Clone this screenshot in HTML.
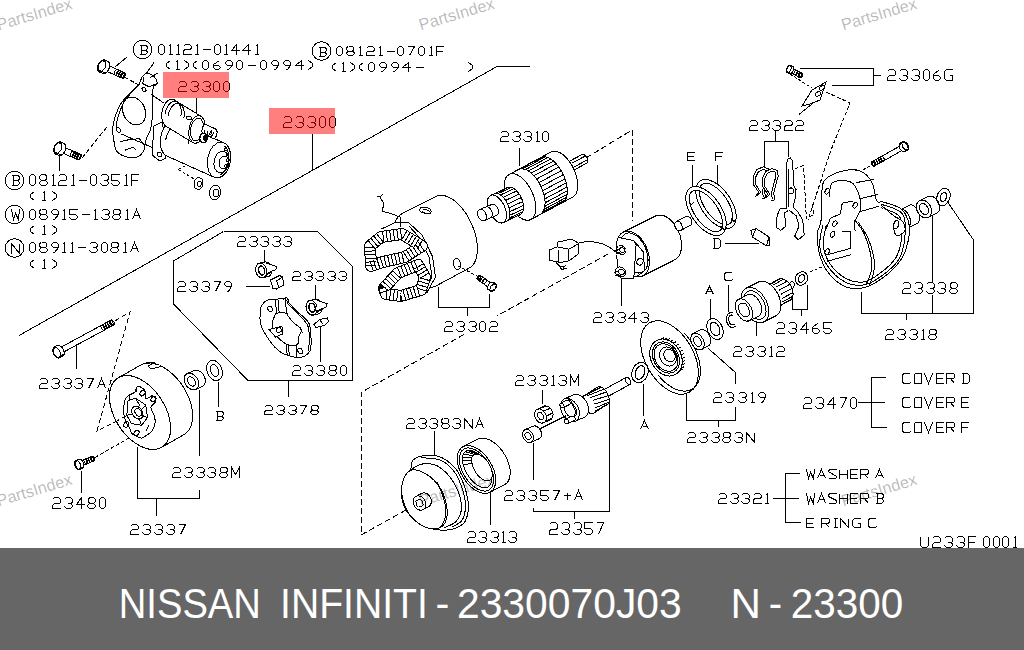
<!DOCTYPE html>
<html><head><meta charset="utf-8"><style>
html,body{margin:0;padding:0;background:#fff;width:1024px;height:650px;overflow:hidden}
svg{position:absolute;left:0;top:0}
</style></head><body>
<svg width="1024" height="650" viewBox="0 0 1024 650">
<rect x="0" y="0" width="1024" height="650" fill="#fff"/>

<g fill="none" stroke="#000" stroke-width="1" shape-rendering="crispEdges">
<polyline points="19,335.5 497,66.5 529.5,66.5"/>
<polyline points="223.5,231.5 317.5,231.5 352.5,266.5 352.5,380.5 248,380.5 173.5,304 173.5,261 223.5,231.5"/>
<line x1="288.5" y1="380.5" x2="288.5" y2="396.5"/>
<line x1="196.5" y1="98" x2="196.5" y2="115"/>
<line x1="312.5" y1="134" x2="312.5" y2="170"/>
<line x1="59.5" y1="154" x2="59.5" y2="171"/>
<line x1="264.5" y1="250" x2="264.5" y2="262"/>
<line x1="315.5" y1="285" x2="315.5" y2="303"/>
<line x1="320.5" y1="326" x2="320.5" y2="362"/>
<line x1="76.5" y1="344" x2="76.5" y2="369"/>
<line x1="218.5" y1="382" x2="218.5" y2="407"/>
<line x1="81.5" y1="471" x2="81.5" y2="493"/>
<line x1="621.5" y1="278" x2="621.5" y2="306"/>
<line x1="519.5" y1="148" x2="519.5" y2="166"/>
<line x1="692.5" y1="165" x2="692.5" y2="188"/>
<line x1="717.5" y1="165" x2="717.5" y2="186"/>
<line x1="710.5" y1="299" x2="710.5" y2="319"/>
<line x1="728.5" y1="285" x2="728.5" y2="312"/>
<line x1="756.5" y1="320" x2="756.5" y2="336"/>
<line x1="542.5" y1="390" x2="542.5" y2="404"/>
<line x1="434.5" y1="431" x2="434.5" y2="456"/>
<line x1="533.5" y1="443" x2="533.5" y2="480"/>
<line x1="490.5" y1="493" x2="490.5" y2="525"/>
<line x1="643.5" y1="384" x2="643.5" y2="416"/>
<line x1="246" y1="286.5" x2="270" y2="286.5"/>
<line x1="725" y1="243.5" x2="758.5" y2="243.5"/>
<polyline points="137.5,446.5 137.5,498.5 199.5,498.5 199.5,489.5"/>
<line x1="156.5" y1="498.5" x2="156.5" y2="515.5"/>
<line x1="199.5" y1="390" x2="199.5" y2="456"/>
<polyline points="438.5,286.5 438.5,307.5 489.5,307.5 489.5,293.5"/>
<line x1="467.5" y1="307.5" x2="467.5" y2="315.5"/>
<polyline points="764.5,166.5 764.5,141.5 788.5,141.5 788.5,156.5"/>
<line x1="775.5" y1="131" x2="775.5" y2="141.5"/>
<polyline points="799.5,68.5 873.5,68.5 873.5,85.5 831.5,85.5"/>
<line x1="873.5" y1="75.5" x2="881" y2="75.5"/>
<polyline points="861.5,292 861.5,313.5 973.5,313.5 973.5,240 947,201"/>
<line x1="932.5" y1="209" x2="932.5" y2="282"/>
<line x1="932.5" y1="294.5" x2="932.5" y2="313.5"/>
<line x1="906.5" y1="313.5" x2="906.5" y2="319.5"/>
<polyline points="792.5,290.5 792.5,309.5 807.5,309.5 807.5,285"/>
<line x1="801.5" y1="309.5" x2="801.5" y2="315.5"/>
<polyline points="533.5,507.5 533.5,511.5 609.5,511.5 609.5,401.5"/>
<line x1="574.5" y1="511.5" x2="574.5" y2="519"/>
<polyline points="707.9,348.1 735.5,372.5 735.5,383.5"/>
<polyline points="686.5,392 686.5,420.5 735.5,420.5 735.5,406.5"/>
<line x1="718.5" y1="420.5" x2="718.5" y2="426.5"/>
<line x1="857.5" y1="402.5" x2="884.5" y2="402.5"/>
<polyline points="885.5,377.5 871.5,377.5 871.5,427.5 886.5,427.5"/>
<line x1="773" y1="498.5" x2="798.5" y2="498.5"/>
<polyline points="799.5,473.5 785.5,473.5 785.5,522.5 800.5,522.5"/>
<circle cx="142.5" cy="49.5" r="9.3"/>
<circle cx="321.5" cy="51" r="9.3"/>
<circle cx="14.5" cy="180.5" r="9.3"/>
<circle cx="14.5" cy="214.5" r="9.3"/>
<circle cx="14.5" cy="248" r="9.3"/>
<line x1="104.1" y1="70.2" x2="122.3" y2="78.2"/>
<line x1="106.5" y1="64.7" x2="124.7" y2="72.8"/>
<ellipse cx="116.3" cy="72.3" rx="3" ry="1.6" transform="rotate(113.83874018317172 116.3 72.3)"/>
<ellipse cx="118.4" cy="73.2" rx="3" ry="1.6" transform="rotate(113.83874018317172 118.4 73.2)"/>
<ellipse cx="120.4" cy="74.1" rx="3" ry="1.6" transform="rotate(113.83874018317172 120.4 74.1)"/>
<ellipse cx="122.5" cy="75" rx="3" ry="1.6" transform="rotate(113.83874018317172 122.5 75)"/>
<ellipse cx="123.5" cy="75.5" rx="3" ry="1.5" transform="rotate(113.83874018317172 123.5 75.5)"/>
<polygon points="97.6,68.4 97.6,67.6 97.7,66.8 97.9,66 98.1,65.2 98.4,64.4 98.8,63.7 99.2,62.9 99.7,62.3 100.2,61.7 100.8,61.1 101.3,60.7 101.9,60.3 102.5,60.1 103.1,59.9 103.6,59.9 104.1,59.9 104.6,60 107.9,61.5 108.3,61.8 108.7,62.1 109.1,62.6 109.3,63.1 109.5,63.7 109.7,64.4 109.7,65.1 109.7,65.8 109.6,66.6 109.4,67.4 109.2,68.2 108.8,69 108.5,69.8 108,70.5 107.6,71.2 107,71.8 106.5,72.3 105.9,72.8 105.4,73.1 104.8,73.4 104.2,73.5 103.7,73.6 103.1,73.5 102.6,73.4 99.4,72 98.9,71.7 98.5,71.3 98.2,70.9 97.9,70.4 97.7,69.8 97.6,69.1" fill="#fff"/>
<polygon points="98.3,70 98.7,64.6 102.5,60.5 105.7,62 105.3,67.4 101.5,71.5"/>
<line x1="98.3" y1="70" x2="101.5" y2="71.5"/>
<line x1="101.5" y1="71.5" x2="104.8" y2="72.9"/>
<line x1="115" y1="67" x2="127" y2="57"/>
<line x1="125" y1="77.5" x2="139" y2="85" stroke-dasharray="4,2"/>
<path d="M142.8,76.1 C144.4,74.2 146.2,73.2 148.1,73.4 C150.1,73.5 153.1,75.6 154.6,77.2 C156.1,78.9 157.4,81.6 157.2,83.3 C157,84.9 154.3,84.7 153.5,86.9 C152.7,89.1 152.6,92.1 152.4,96.6 C152.3,101.1 152.7,108.4 152.4,113.8 C152.2,119.2 151.8,124.6 150.7,128.9 C149.6,133.2 147.1,136.1 146,139.7 C144.8,143.3 145.3,147.6 143.8,150.4 C142.4,153.3 140.2,155.8 137.4,156.9 C134.5,158 130,157.8 126.6,156.9 C123.2,156 119.1,154.4 116.9,151.5 C114.8,148.6 114.4,143.4 113.7,139.7 C113,135.9 112.3,132.9 112.6,128.9 C112.9,125 114,120.3 115.4,116 C116.8,111.7 118.8,106.8 121.2,103.1 C123.6,99.3 127,96.4 129.8,93.4 C132.7,90.3 136.3,87.6 138.4,84.8 C140.6,81.9 141.1,78.1 142.8,76.1 Z" fill="#fff"/>
<path d="M140,83.7 C137.6,86.4 129.3,94.1 125.5,99.8 C121.8,105.6 119.1,112.9 117.6,118.1 C116,123.3 116.5,128.9 116.3,131.1"/>
<polyline points="143.8,76.8 142.8,83.7 149.2,86.9 157.2,83.3"/>
<polyline points="120.1,141.8 128.8,139.7 139.5,138.6 143.8,145.1"/>
<polyline points="124.5,150.4 133.1,147.2 136.3,150.4"/>
<ellipse cx="134" cy="111" rx="14.5" ry="11" transform="rotate(65 134 111)"/>
<ellipse cx="144" cy="89.5" rx="2.5" ry="1.8" transform="rotate(60 144 89.5)"/>
<ellipse cx="118.5" cy="130" rx="2.5" ry="1.8" transform="rotate(60 118.5 130)"/>
<line x1="151.5" y1="94.5" x2="164.5" y2="103.5"/>
<line x1="121.5" y1="134" x2="155.5" y2="149"/>
<line x1="146" y1="74" x2="154" y2="62.5"/>
<line x1="150" y1="77.5" x2="158" y2="73"/>
<polygon points="162,122 154,126 152,155 160,161 166,158 165,138" fill="#fff"/>
<ellipse cx="159.5" cy="154.5" rx="2.5" ry="2" transform="rotate(60 159.5 154.5)"/>
<polygon points="160.2,141.7 160.4,139.3 160.7,137 161.2,134.7 161.9,132.5 162.7,130.4 163.8,128.4 164.9,126.6 166.2,125 167.6,123.7 169,122.7 170.6,121.9 172.1,121.4 173.6,121.2 175.1,121.3 176.6,121.7 223.6,142.7 224.9,143.4 226.2,144.4 227.4,145.7 228.4,147.2 229.2,148.9 229.9,150.8 230.4,152.9 230.7,155.1 230.8,157.3 230.6,159.7 230.3,162 229.8,164.3 229.1,166.5 228.3,168.6 227.2,170.6 226.1,172.4 224.8,173.9 223.4,175.3 222,176.3 220.4,177.1 218.9,177.6 217.4,177.8 215.9,177.7 214.4,177.3 167.4,156.3 166.1,155.6 164.8,154.6 163.6,153.3 162.6,151.8 161.8,150.1 161.1,148.2 160.6,146.1 160.3,143.9" fill="#fff"/>
<ellipse cx="219" cy="160" rx="18" ry="11.5" transform="rotate(100 219 160)"/>
<ellipse cx="221.5" cy="162" rx="11" ry="7.5" transform="rotate(100 221.5 162)"/>
<ellipse cx="224" cy="162.5" rx="6.5" ry="5" transform="rotate(100 224 162.5)"/>
<polyline points="224.7,146.2 225.8,147.3 226.7,148.7 227.5,150.3 228.1,152.1 228.5,154.1 228.7,156.2 228.7,158.3 228.5,160.5 228.1,162.7 227.6,164.9 226.8,166.9 225.9,168.8 224.8,170.5 223.7,172 222.4,173.3 221.1,174.2 219.7,174.9"/>
<ellipse cx="225.8" cy="149.6" rx="1.6" ry="1.2" transform="rotate(30 225.8 149.6)"/>
<ellipse cx="227.5" cy="154.4" rx="1.6" ry="1.2" transform="rotate(30 227.5 154.4)"/>
<ellipse cx="227.6" cy="160.3" rx="1.6" ry="1.2" transform="rotate(30 227.6 160.3)"/>
<ellipse cx="226" cy="166.1" rx="1.6" ry="1.2" transform="rotate(30 226 166.1)"/>
<polyline points="165.7,140 166.2,137.5 167,135.1 168,132.8 169.2,130.7 170.5,128.9 171.9,127.3 173.5,126 175.1,125 176.8,124.4 178.5,124.2 180.1,124.3 181.7,124.7 183.2,125.6 184.5,126.7 185.8,128.2 186.8,129.9 187.6,131.9 188.2,134.1 188.6,136.5 188.7,138.9 188.7,141.5 188.3,144"/>
<polygon points="161.8,115.2 161.9,113.4 162.1,111.6 162.5,109.8 163,108.1 163.7,106.4 164.4,104.9 165.2,103.5 166.2,102.3 167.1,101.2 168.2,100.4 169.2,99.7 170.3,99.3 171.4,99.2 172.4,99.2 173.4,99.5 174.4,100 201.4,116.5 202.3,117.3 203,118.2 203.7,119.4 204.3,120.7 204.7,122.2 205,123.8 205.2,125.5 205.2,127.3 205.1,129.1 204.9,130.9 204.5,132.7 204,134.4 203.3,136.1 202.6,137.6 201.8,139 200.8,140.2 199.9,141.3 198.8,142.1 197.8,142.8 196.7,143.2 195.6,143.3 194.6,143.3 193.6,143 192.6,142.5 165.6,126 164.7,125.2 164,124.2 163.3,123.1 162.7,121.8 162.3,120.3 162,118.7 161.8,117" fill="#fff"/>
<ellipse cx="197" cy="129.5" rx="14" ry="8" transform="rotate(100 197 129.5)"/>
<polyline points="165.1,113.6 165.5,111.7 166.1,109.8 166.8,108 167.7,106.4 168.6,104.9 169.7,103.7 170.8,102.7 171.9,101.9 173.1,101.4 174.3,101.2 175.4,101.2 176.5,101.6 177.6,102.2 178.5,103 179.3,104.2 180,105.5 180.5,107 180.9,108.7 181.2,110.5 181.2,112.4 181.1,114.4 180.9,116.4"/>
<polyline points="168.1,115.6 168.5,113.7 169.1,111.8 169.8,110 170.7,108.4 171.6,106.9 172.7,105.7 173.8,104.7 174.9,103.9 176.1,103.4 177.3,103.2 178.4,103.2 179.5,103.6 180.6,104.2 181.5,105 182.3,106.2 183,107.5 183.5,109 183.9,110.7 184.2,112.5 184.2,114.4 184.1,116.4 183.9,118.4"/>
<ellipse cx="197" cy="129.5" rx="11.5" ry="6.5" transform="rotate(100 197 129.5)"/>
<ellipse cx="189" cy="118" rx="2" ry="2.8" transform="rotate(100 189 118)"/>
<polygon points="201.9,130.3 202,129.6 202.1,129 202.2,128.3 202.4,127.7 202.6,127.1 202.9,126.6 203.2,126.1 203.5,125.7 203.9,125.3 204.3,125 204.7,124.8 205.1,124.6 205.5,124.5 205.9,124.6 206.2,124.7 215.2,128.7 215.6,128.9 215.9,129.2 216.2,129.5 216.5,129.9 216.7,130.4 216.9,130.9 217,131.5 217.1,132.1 217.1,132.7 217,133.4 216.9,134 216.8,134.7 216.6,135.3 216.4,135.9 216.1,136.4 215.8,136.9 215.5,137.3 215.1,137.7 214.7,138 214.3,138.2 213.9,138.4 213.5,138.4 213.1,138.4 212.8,138.3 203.8,134.3 203.4,134.1 203.1,133.8 202.8,133.5 202.5,133.1 202.3,132.6 202.1,132.1 202,131.5 201.9,130.9" fill="#fff"/>
<ellipse cx="214" cy="133.5" rx="5" ry="3" transform="rotate(100 214 133.5)"/>
<polyline points="210.7,131.2 210.5,131.9 210.3,132.6 210,133.2 209.7,133.8 209.4,134.3 209,134.8 208.6,135.1 208.1,135.4 207.7,135.6 207.3,135.6 206.8,135.6 206.4,135.5 206,135.3 205.7,135 205.4,134.6 205.1,134.1 204.9,133.5 204.7,132.9 204.7,132.3 204.6,131.6 204.7,130.9 204.7,130.2"/>
<polyline points="213.4,132.4 213.2,133.1 213,133.8 212.7,134.4 212.4,135 212.1,135.5 211.7,136 211.3,136.3 210.8,136.6 210.4,136.8 210,136.8 209.5,136.8 209.1,136.7 208.7,136.5 208.4,136.2 208.1,135.8 207.8,135.3 207.6,134.7 207.4,134.1 207.4,133.5 207.3,132.8 207.4,132.1 207.4,131.4"/>
<ellipse cx="203.5" cy="138" rx="4.5" ry="3.8" transform="rotate(100 203.5 138)" fill="#fff" stroke-width="1.6"/>
<ellipse cx="205" cy="138" rx="2.5" ry="2" transform="rotate(100 205 138)" fill="#000"/>
<line x1="178.5" y1="169.5" x2="187.5" y2="164.5" stroke-dasharray="3,2"/>
<line x1="178.5" y1="169.5" x2="195" y2="179.5" stroke-dasharray="3,2"/>
<ellipse cx="198.5" cy="183.5" rx="6" ry="4.5" transform="rotate(100 198.5 183.5)"/>
<ellipse cx="199.5" cy="184" rx="3" ry="2" transform="rotate(100 199.5 184)"/>
<ellipse cx="215" cy="192.5" rx="7.5" ry="5.5" transform="rotate(100 215 192.5)"/>
<ellipse cx="216" cy="193" rx="4" ry="3" transform="rotate(100 216 193)"/>
<line x1="60.1" y1="152.1" x2="78.3" y2="159.8"/>
<line x1="62.5" y1="146.6" x2="80.7" y2="154.2"/>
<ellipse cx="72.2" cy="154" rx="3" ry="1.6" transform="rotate(112.71441235316725 72.2 154)"/>
<ellipse cx="74.3" cy="154.8" rx="3" ry="1.6" transform="rotate(112.71441235316725 74.3 154.8)"/>
<ellipse cx="76.4" cy="155.7" rx="3" ry="1.6" transform="rotate(112.71441235316725 76.4 155.7)"/>
<ellipse cx="78.5" cy="156.6" rx="3" ry="1.6" transform="rotate(112.71441235316725 78.5 156.6)"/>
<ellipse cx="79.5" cy="157" rx="3" ry="1.5" transform="rotate(112.71441235316725 79.5 157)"/>
<polygon points="53.6,150.5 53.6,149.7 53.7,148.9 53.9,148.1 54.1,147.3 54.4,146.5 54.8,145.7 55.2,145 55.6,144.3 56.1,143.7 56.7,143.2 57.2,142.7 57.8,142.3 58.4,142.1 58.9,141.9 59.5,141.8 60,141.9 60.5,142 63.8,143.4 64.3,143.6 64.7,144 65,144.4 65.3,144.9 65.5,145.5 65.6,146.2 65.7,146.9 65.7,147.7 65.6,148.5 65.4,149.3 65.2,150.1 64.9,150.9 64.5,151.7 64.1,152.4 63.7,153.1 63.2,153.7 62.6,154.2 62.1,154.7 61.5,155.1 60.9,155.3 60.4,155.5 59.8,155.6 59.3,155.5 58.8,155.4 55.5,154 55,153.8 54.6,153.4 54.3,153 54,152.4 53.8,151.8 53.7,151.2" fill="#fff"/>
<polygon points="54.4,152.1 54.7,146.6 58.4,142.5 61.6,143.9 61.3,149.4 57.6,153.5"/>
<line x1="54.4" y1="152.1" x2="57.6" y2="153.5"/>
<line x1="57.6" y1="153.5" x2="60.9" y2="154.8"/>
<line x1="82" y1="158" x2="108.5" y2="125" stroke-dasharray="5,2"/>
<path d="M261.5,305.8 C262.5,304 264.3,301.5 266.8,300.4 C269.4,299.3 273.7,299.7 276.5,299.3 C279.4,298.9 282.3,297.9 284.1,298.2 C285.9,298.6 285,299.1 287.3,301.5 C289.6,303.8 294.5,308.6 298.1,312.2 C301.6,315.8 306.7,318.7 308.8,323 C311,327.3 310.8,333.4 311,338.1 C311.2,342.7 311.5,347.7 309.9,351 C308.3,354.2 304.3,356.5 301.3,357.4 C298.2,358.3 294.8,357.1 291.6,356.4 C288.4,355.6 284.8,354.7 281.9,353.1 C279,351.5 277.1,349.7 274.4,346.7 C271.7,343.6 268.1,338.8 265.8,334.8 C263.4,330.9 261.3,326.9 260.4,323 C259.5,319 260.2,314 260.4,311.1 C260.6,308.3 260.4,307.6 261.5,305.8 Z" fill="#fff"/>
<path d="M287.3,303.1 C289.1,304.9 294.7,310.2 298.1,313.8 C301.4,317.5 305.6,321.1 307.5,325.1 C309.4,329.2 309.2,333.8 309.4,338.1 C309.5,342.4 308.5,348.8 308.3,351"/>
<path d="M276.5,313.3 C278.5,312.8 284.2,312.8 286.2,313.3 C288.2,313.8 287.1,314.9 288.4,316.5 C289.6,318.1 292.1,321.4 293.8,323 C295.4,324.6 296.8,325 298.1,326.2 C299.3,327.5 301.1,328.9 301.3,330.5 C301.5,332.1 299.7,333.8 299.1,335.9 C298.6,338.1 298.8,341.8 298.1,343.4 C297.3,345.1 296.6,345.4 294.8,345.6 C293,345.8 289.6,345.4 287.3,344.5 C285,343.6 283,342.2 280.8,340.2 C278.7,338.2 275.8,335.4 274.4,332.7 C272.9,330 272.2,326.8 272.2,324.1 C272.2,321.4 273.7,318.3 274.4,316.5 C275.1,314.7 274.6,313.8 276.5,313.3 Z"/>
<polyline points="275.5,299.8 276.5,313.3"/>
<polyline points="278.1,299.8 279.2,312.8"/>
<polyline points="285.1,299.3 286.8,313.3"/>
<polyline points="286.2,344 287.3,356.4"/>
<polyline points="288.4,344.5 289.4,356.4"/>
<polyline points="295.9,345.1 297,357.4"/>
<polygon points="269,329.4 281.9,326.2 283,333.8 275.5,337" fill="#fff"/>
<polygon points="276.5,328.4 280.8,327.3 281.4,331.6 277.1,332.7"/>
<polyline points="283,299.3 286.2,297.2 288.9,300.4 287.3,302.5"/>
<ellipse cx="270.1" cy="309" rx="3" ry="2.2" transform="rotate(60 270.1 309)"/>
<ellipse cx="300.2" cy="351" rx="3" ry="2.2" transform="rotate(60 300.2 351)"/>
<line x1="300.2" y1="327.3" x2="302.4" y2="332.7"/>
<polygon points="255.6,269 255.6,268.1 255.8,267.2 256.1,266.4 256.4,265.6 256.9,264.9 257.4,264.3 257.9,263.8 258.6,263.5 259.3,263.2 264.4,262.1 265.1,261.9 265.8,261.9 266.6,262.1 267.3,262.3 268,262.7 268.7,263.2 269.4,263.8 269.9,264.4 270.5,265.2 270.9,266.1 271.3,266.9 271.6,267.9 271.8,268.8 271.9,269.8 272,270.8 271.9,271.7 271.7,272.6 271.4,273.4 271.1,274.2 270.6,274.9 270.1,275.4 269.6,275.9 268.9,276.3 268.3,276.5 263.1,277.7 262.4,277.8 261.7,277.8 261,277.7 260.2,277.4 259.5,277.1 258.8,276.6 258.2,276 257.6,275.3 257,274.6 256.6,273.7 256.2,272.8 255.9,271.9 255.7,270.9 255.6,270" fill="#fff"/>
<ellipse cx="261.2" cy="270.5" rx="7.5" ry="5.5" transform="rotate(75 261.2 270.5)"/>
<polyline points="266.3,263.2 276.5,266.4 275.8,269.7 270,271.9 267,273.4" fill="#fff"/>
<ellipse cx="261.6" cy="270.5" rx="4.5" ry="3" transform="rotate(75 261.6 270.5)" stroke-width="1.5"/>
<line x1="265.6" y1="275.6" x2="271.4" y2="271.9"/>
<polygon points="306,306.3 306.1,305.4 306.2,304.5 306.5,303.6 306.9,302.9 307.3,302.2 307.8,301.6 308.4,301.1 309,300.8 309.7,300.5 314.8,299.3 315.5,299.2 316.2,299.2 317,299.3 317.7,299.6 318.4,300 319.1,300.4 319.8,301 320.4,301.7 320.9,302.5 321.4,303.3 321.8,304.2 322.1,305.2 322.3,306.1 322.4,307.1 322.4,308 322.3,309 322.1,309.9 321.9,310.7 321.5,311.5 321.1,312.1 320.6,312.7 320,313.2 319.4,313.6 318.7,313.8 313.6,315 312.9,315.1 312.1,315.1 311.4,315 310.7,314.7 309.9,314.4 309.2,313.9 308.6,313.3 308,312.6 307.5,311.8 307,311 306.6,310.1 306.3,309.2 306.1,308.2 306,307.2" fill="#fff"/>
<ellipse cx="311.6" cy="307.7" rx="7.5" ry="5.5" transform="rotate(75 311.6 307.7)"/>
<polyline points="316.8,300.4 327,303.7 326.3,307 320.4,309.2 317.5,310.7" fill="#fff"/>
<ellipse cx="312.1" cy="307.7" rx="4.5" ry="3" transform="rotate(75 312.1 307.7)" stroke-width="1.5"/>
<line x1="316" y1="312.9" x2="321.9" y2="309.2"/>
<polygon points="270.5,280 279.5,275.5 282.5,277 284,285 276.5,289 273,288.5"/>
<line x1="276.5" y1="281" x2="279.5" y2="288.5"/>
<line x1="276.5" y1="281" x2="282.5" y2="277"/>
<polygon points="314,324.5 319.5,319.5 327.5,318 328.5,321.5 324.5,325.5 316,327.5"/>
<line x1="319.5" y1="319.5" x2="323" y2="324"/>
<polygon points="109.4,397.8 109.5,393.5 110.2,389.5 111.3,385.9 113,382.8 115.1,380.2 117.7,378.1 139.7,365.6 142.6,364.1 145.9,363.3 149.4,363 153.1,363.4 157.1,364.4 161,366.1 165,368.3 169,371 172.8,374.3 176.5,377.9 179.9,382 183,386.4 185.7,391 188,395.8 189.9,400.6 191.3,405.4 192.2,410.1 192.6,414.7 192.5,419 191.8,423 190.7,426.6 189,429.7 186.9,432.3 184.3,434.4 162.3,446.9 159.4,448.4 156.1,449.2 152.6,449.5 148.9,449.1 144.9,448.1 141,446.4 137,444.2 133,441.5 129.2,438.2 125.5,434.6 122.1,430.5 119,426.1 116.3,421.5 114,416.8 112.1,411.9 110.7,407.1 109.8,402.4" fill="#fff"/>
<polyline points="145.8,362.7 154.3,362.2 148.3,366.1 150.9,368.6 155.9,367.8 162.7,366.1" fill="#fff"/>
<ellipse cx="140" cy="412.5" rx="41" ry="25" transform="rotate(57 140 412.5)"/>
<path d="M137.3,386.4 C138.6,385.7 141,387.1 142.4,388.1 C143.8,389.1 145.2,390.5 145.8,392.3 C146.4,394.2 144.7,398.5 145.8,399.1 C146.9,399.7 150.9,395.4 152.6,395.7 C154.3,396 155.8,399.4 155.9,400.8 C156.1,402.2 154.3,403 153.4,404.2 C152.6,405.3 150.7,405.6 150.9,407.6 C151,409.5 153.5,413.5 154.3,416 C155,418.6 155.5,420.3 155.1,422.8 C154.7,425.3 153,429.3 151.7,431.3 C150.4,433.2 149.2,433.5 147.5,434.6 C145.8,435.8 143.4,437.7 141.6,438 C139.7,438.3 138.2,437.2 136.5,436.3 C134.8,435.5 132.5,434.4 131.4,433 C130.3,431.5 130.6,429.6 129.7,427.9 C128.9,426.2 127.3,425.1 126.3,422.8 C125.3,420.5 124.1,418 123.8,414.3 C123.5,410.7 123.8,404 124.6,400.8 C125.5,397.5 127.2,396.3 128.9,394.9 C130.6,393.5 133.4,393.7 134.8,392.3 C136.2,390.9 136.1,387.1 137.3,386.4 Z" fill="#fff"/>
<polygon points="128,400.8 135.6,398.2 145.8,405 147.5,417.7 141.6,425.3 131.4,423.6 126.8,415.2"/>
<ellipse cx="137.3" cy="412.6" rx="7" ry="5" transform="rotate(60 137.3 412.6)" fill="#fff"/>
<ellipse cx="138.2" cy="412.3" rx="4" ry="3" transform="rotate(60 138.2 412.3)"/>
<polyline points="135.6,398.2 139.9,405.9"/>
<polyline points="145.8,405 141.6,409.3"/>
<polyline points="147.5,417.7 141.6,415.2"/>
<polyline points="141.6,425.3 138.7,417.7"/>
<polyline points="126.8,415.2 133.1,414.3"/>
<polyline points="129.7,400.8 128.9,395.7 137.3,390.6"/>
<polyline points="149.2,424.5 145.8,431.3"/>
<ellipse cx="142.4" cy="393.2" rx="2.2" ry="3" transform="rotate(40 142.4 393.2)"/>
<ellipse cx="153.4" cy="399.1" rx="2.2" ry="3" transform="rotate(40 153.4 399.1)"/>
<ellipse cx="126.3" cy="424.5" rx="2.2" ry="3" transform="rotate(40 126.3 424.5)"/>
<ellipse cx="136.5" cy="433" rx="2.2" ry="3" transform="rotate(40 136.5 433)"/>
<line x1="113.6" y1="422.8" x2="128.9" y2="414.3" stroke-dasharray="6,3"/>
<polygon points="184.2,378.7 184.3,377.7 184.5,376.7 184.9,375.9 185.3,375.1 185.9,374.5 186.6,373.9 187.3,373.6 193.8,370.6 194.7,370.3 195.6,370.2 196.5,370.2 197.4,370.4 198.4,370.7 199.3,371.1 200.3,371.7 201.2,372.3 202,373.1 202.8,374 203.4,375 204,376 204.5,377 204.9,378.1 205.2,379.2 205.3,380.3 205.3,381.3 205.2,382.3 205,383.3 204.6,384.1 204.2,384.9 203.6,385.5 202.9,386.1 202.2,386.4 195.7,389.4 194.8,389.7 193.9,389.8 193,389.8 192.1,389.6 191.1,389.3 190.2,388.9 189.2,388.3 188.3,387.7 187.5,386.9 186.7,386 186.1,385 185.5,384 185,383 184.6,381.9 184.3,380.8 184.2,379.7" fill="#fff"/>
<ellipse cx="191.5" cy="381.5" rx="9" ry="6.5" transform="rotate(57 191.5 381.5)"/>
<ellipse cx="191.5" cy="381.5" rx="5" ry="3.5" transform="rotate(57 191.5 381.5)"/>
<ellipse cx="214.5" cy="370.5" rx="10.5" ry="7.5" transform="rotate(70 214.5 370.5)"/>
<ellipse cx="214.5" cy="370.5" rx="6" ry="4" transform="rotate(70 214.5 370.5)"/>
<line x1="61.2" y1="353.4" x2="113.8" y2="325"/>
<line x1="58.6" y1="348.5" x2="111.2" y2="320"/>
<ellipse cx="103" cy="327.6" rx="2.8" ry="1.6" transform="rotate(61.606980578617005 103 327.6)"/>
<ellipse cx="105.1" cy="326.5" rx="2.8" ry="1.6" transform="rotate(61.606980578617005 105.1 326.5)"/>
<ellipse cx="107.2" cy="325.4" rx="2.8" ry="1.6" transform="rotate(61.606980578617005 107.2 325.4)"/>
<ellipse cx="109.3" cy="324.2" rx="2.8" ry="1.6" transform="rotate(61.606980578617005 109.3 324.2)"/>
<ellipse cx="111.4" cy="323.1" rx="2.8" ry="1.6" transform="rotate(61.606980578617005 111.4 323.1)"/>
<ellipse cx="112.5" cy="322.5" rx="2.8" ry="1.5" transform="rotate(61.606980578617005 112.5 322.5)"/>
<polygon points="52.7,350 52.8,349.4 53,348.8 53.1,348.3 53.4,347.8 53.8,347.5 54.1,347.2 57,345.6 57.5,345.5 58,345.4 58.5,345.4 59,345.5 59.6,345.7 60.1,346 60.7,346.4 61.2,346.8 61.7,347.3 62.2,347.9 62.7,348.5 63.1,349.2 63.4,349.9 63.7,350.6 63.9,351.4 64.1,352.1 64.2,352.8 64.2,353.4 64.1,354.1 64,354.6 63.8,355.1 63.5,355.6 63.1,355.9 62.8,356.2 59.9,357.8 59.4,358 58.9,358 58.4,358 57.9,357.9 57.3,357.7 56.8,357.4 56.2,357.1 55.7,356.6 55.2,356.1 54.7,355.5 54.2,354.9 53.8,354.2 53.5,353.5 53.2,352.8 53,352.1 52.8,351.3 52.8,350.6" fill="#fff"/>
<polygon points="57.8,357.5 54.1,354.1 53.3,349.1 56.2,347.5 59.9,350.9 60.7,355.9"/>
<line x1="57.8" y1="357.5" x2="60.7" y2="355.9"/>
<line x1="60.7" y1="355.9" x2="63.6" y2="354.4"/>
<polyline points="115,321 130,312 97,431 113,423" stroke-dasharray="5,3"/>
<line x1="81.5" y1="466.2" x2="94" y2="460.8"/>
<line x1="79.5" y1="461.6" x2="92" y2="456.2"/>
<ellipse cx="85.8" cy="461.6" rx="2.5" ry="1.6" transform="rotate(66.5713071912546 85.8 461.6)"/>
<ellipse cx="87.8" cy="460.7" rx="2.5" ry="1.6" transform="rotate(66.5713071912546 87.8 460.7)"/>
<ellipse cx="89.9" cy="459.8" rx="2.5" ry="1.6" transform="rotate(66.5713071912546 89.9 459.8)"/>
<ellipse cx="92" cy="458.9" rx="2.5" ry="1.6" transform="rotate(66.5713071912546 92 458.9)"/>
<ellipse cx="93" cy="458.5" rx="2.5" ry="1.5" transform="rotate(66.5713071912546 93 458.5)"/>
<polygon points="74.6,463.1 74.7,462.6 74.8,462.1 74.9,461.6 75.1,461.2 75.4,460.9 75.7,460.6 76,460.4 78.5,459.3 78.9,459.2 79.3,459.2 79.7,459.2 80.2,459.3 80.6,459.5 81.1,459.8 81.5,460.2 81.9,460.6 82.3,461.1 82.7,461.6 83,462.1 83.3,462.7 83.5,463.3 83.7,463.9 83.8,464.6 83.9,465.2 83.9,465.8 83.9,466.3 83.8,466.8 83.6,467.3 83.4,467.7 83.2,468 82.8,468.3 82.5,468.5 80,469.6 79.6,469.7 79.2,469.7 78.8,469.7 78.3,469.6 77.9,469.4 77.5,469.1 77,468.7 76.6,468.3 76.2,467.9 75.9,467.3 75.5,466.8 75.2,466.2 75,465.6 74.8,465 74.7,464.4 74.6,463.7" fill="#fff"/>
<polygon points="78.3,469.2 75.5,466.1 75.2,461.9 77.7,460.8 80.5,463.9 80.8,468.1"/>
<line x1="78.3" y1="469.2" x2="80.8" y2="468.1"/>
<line x1="80.8" y1="468.1" x2="83.4" y2="467"/>
<line x1="95" y1="457.5" x2="129" y2="438" stroke-dasharray="4,2"/>
<polygon points="393.6,234.5 393.6,230.2 394.1,226.2 395,222.6 396.3,219.5 398,216.9 400.1,214.9 402.4,213.5 436.3,196.3 439,195.5 441.9,195.3 444.9,195.8 448.1,196.9 451.3,198.6 454.6,200.8 457.8,203.7 461,207 464,210.7 466.8,214.8 469.3,219.2 471.6,223.9 473.5,228.6 475.1,233.5 476.3,238.3 477.1,243.1 477.4,247.6 477.3,251.9 476.8,255.8 475.9,259.4 474.6,262.5 472.9,265 470.8,267.1 468.5,268.5 435,286.5 432.3,287.3 429.4,287.5 426.4,287 423.2,285.9 419.9,284.2 416.6,281.9 413.4,279 410.2,275.7 407.2,271.9 404.4,267.7 401.8,263.2 399.5,258.5 397.6,253.7 396,248.8 394.8,243.9 393.9,239.1" fill="#fff"/>
<ellipse cx="425.5" cy="210.5" rx="6" ry="3.2" transform="rotate(15 425.5 210.5)"/>
<ellipse cx="426" cy="211.5" rx="3.5" ry="1.8" transform="rotate(15 426 211.5)"/>
<ellipse cx="457" cy="264" rx="5.5" ry="3.5" transform="rotate(80 457 264)"/>
<polyline points="381.5,229 395,222.5 409,223 422,235 432.5,256.5 435.5,277 427,292.5 406.5,299.5" fill="#fff"/>
<polyline points="409,226 419,237 429,257 432,277 425,290"/>
<polygon points="371,266 370,246 381,237 402,234 422,246 405,257 383,262" stroke-width="12" stroke-linejoin="round"/>
<polygon points="371,266 370,246 381,237 402,234 422,246 405,257 383,262" stroke="#fff" stroke-width="10" stroke-linejoin="round"/>
<polygon points="371,266 370,246 381,237 402,234 422,246 405,257 383,262" stroke-width="10" stroke-dasharray="1,2.6"/>
<polygon points="384,288 398,273 418,265 425,277 421,290 401,296 386,294" stroke-width="12" stroke-linejoin="round"/>
<polygon points="384,288 398,273 418,265 425,277 421,290 401,296 386,294" stroke="#fff" stroke-width="10" stroke-linejoin="round"/>
<polygon points="384,288 398,273 418,265 425,277 421,290 401,296 386,294" stroke-width="10" stroke-dasharray="1,2.6"/>
<polyline points="380,197 384,204 382,211 392,214 400,217 400,227"/>
<polyline points="377,196 380,197 383,194"/>
<line x1="458" y1="266" x2="477" y2="276" stroke-dasharray="3,2"/>
<line x1="492.4" y1="284" x2="480.5" y2="275.5"/>
<line x1="489.5" y1="288.1" x2="477.5" y2="279.5"/>
<ellipse cx="484.4" cy="281.4" rx="2.5" ry="1.6" transform="rotate(-54.46232220802562 484.4 281.4)"/>
<ellipse cx="482.3" cy="279.8" rx="2.5" ry="1.6" transform="rotate(-54.46232220802562 482.3 279.8)"/>
<ellipse cx="480.1" cy="278.3" rx="2.5" ry="1.6" transform="rotate(-54.46232220802562 480.1 278.3)"/>
<ellipse cx="479" cy="277.5" rx="2.5" ry="1.5" transform="rotate(-54.46232220802562 479 277.5)"/>
<polygon points="487.6,288 487.6,287.5 487.6,287.1 487.8,286.5 488,286 488.2,285.5 488.5,285 488.8,284.5 489.1,284 489.5,283.6 490,283.2 490.4,282.9 490.8,282.6 491.3,282.4 491.7,282.2 492.1,282.1 492.6,282.1 492.9,282.1 493.3,282.2 493.6,282.4 495.6,283.8 495.9,284.1 496.1,284.4 496.3,284.7 496.4,285.1 496.4,285.6 496.4,286 496.3,286.5 496.2,287 496,287.6 495.8,288.1 495.5,288.6 495.2,289.1 494.8,289.5 494.4,290 494,290.4 493.6,290.7 493.1,291 492.7,291.2 492.3,291.4 491.8,291.5 491.4,291.5 491,291.4 490.7,291.3 490.4,291.2 488.4,289.7 488.1,289.5 487.9,289.2 487.7,288.8 487.6,288.4" fill="#fff"/>
<polygon points="496.1,285.3 495,288.9 491.9,291.1 489.9,289.7 491,286.1 494.1,283.9"/>
<line x1="496.1" y1="285.3" x2="494.1" y2="283.9"/>
<line x1="494.1" y1="283.9" x2="492.1" y2="282.4"/>
<polygon points="567.6,164.2 567.6,163.7 567.7,163.2 567.8,162.7 568,162.3 568.3,161.9 568.5,161.7 568.9,161.5 581.9,154.5 582.3,154.3 582.7,154.3 583.1,154.3 583.5,154.4 584,154.6 584.4,154.9 584.9,155.2 585.3,155.6 585.7,156.1 586.1,156.6 586.4,157.2 586.7,157.7 587,158.3 587.2,158.9 587.3,159.6 587.4,160.2 587.4,160.8 587.4,161.3 587.3,161.8 587.2,162.3 587,162.7 586.7,163.1 586.5,163.3 586.1,163.5 573.1,170.5 572.7,170.7 572.3,170.7 571.9,170.7 571.5,170.6 571,170.4 570.6,170.1 570.1,169.8 569.7,169.4 569.3,168.9 568.9,168.4 568.6,167.8 568.3,167.3 568,166.7 567.8,166.1 567.7,165.4 567.6,164.8" fill="#fff"/>
<line x1="569.5" y1="161.3" x2="582.5" y2="154.3"/>
<line x1="572.5" y1="162.9" x2="585.5" y2="155.9"/>
<line x1="574.4" y1="166.8" x2="587.4" y2="159.8"/>
<line x1="573.6" y1="170.2" x2="586.6" y2="163.2"/>
<line x1="586" y1="158" x2="632" y2="130" stroke-dasharray="6,3"/>
<polygon points="504.2,184.9 504.4,182.4 505,180.1 505.7,178.2 506.8,176.5 508,175.2 509.4,174.3 551.4,151.8 553.1,151.3 554.8,151.2 556.8,151.5 558.7,152.1 560.8,153.2 562.9,154.6 564.9,156.3 566.9,158.4 568.8,160.8 570.6,163.3 572.3,166.1 573.8,169 575.1,172 576.1,175.1 576.9,178.1 577.5,181.1 577.8,183.9 577.8,186.6 577.5,189.1 577,191.4 576.3,193.3 575.2,195 574,196.2 572.6,197.2 530.6,219.7 528.9,220.2 527.2,220.3 525.2,220 523.3,219.4 521.2,218.3 519.1,216.9 517.1,215.2 515.1,213.1 513.2,210.8 511.4,208.2 509.7,205.4 508.2,202.5 506.9,199.5 505.9,196.4 505.1,193.4 504.5,190.4 504.2,187.6" fill="#fff"/>
<ellipse cx="520" cy="197" rx="25" ry="13" transform="rotate(65 520 197)"/>
<polyline points="518.7,169.4 520.5,168.8 522.4,168.8 524.5,169.2 526.7,170 529,171.3 531.2,173.1 533.4,175.2 535.6,177.6 537.6,180.4 539.4,183.4 541,186.6 542.4,189.8 543.5,193.2 544.3,196.5 544.9,199.7 545.1,202.7 544.9,205.6 544.5,208.1 543.7,210.4 542.7,212.2 541.4,213.7 539.8,214.7"/>
<polyline points="540.9,157.5 542.7,156.9 544.7,156.8 546.8,157.2 549,158.1 551.2,159.4 553.5,161.1 555.7,163.3 557.8,165.7 559.8,168.5 561.7,171.5 563.3,174.6 564.7,177.9 565.8,181.2 566.6,184.5 567.1,187.8 567.3,190.8 567.2,193.7 566.8,196.2 566,198.5 565,200.3 563.6,201.8 562.1,202.8"/>
<line x1="520.4" y1="168.8" x2="542.7" y2="156.9"/>
<line x1="522.9" y1="168.8" x2="545.2" y2="156.9"/>
<line x1="525.6" y1="169.5" x2="547.8" y2="157.6"/>
<line x1="528.4" y1="170.9" x2="550.6" y2="159"/>
<line x1="531.2" y1="173" x2="553.5" y2="161.1"/>
<line x1="534" y1="175.7" x2="556.2" y2="163.8"/>
<line x1="536.6" y1="179" x2="558.8" y2="167"/>
<line x1="539" y1="182.6" x2="561.2" y2="170.7"/>
<line x1="541" y1="186.6" x2="563.3" y2="174.6"/>
<line x1="542.7" y1="190.7" x2="565" y2="178.8"/>
<line x1="544" y1="194.8" x2="566.2" y2="182.9"/>
<line x1="544.8" y1="198.9" x2="567" y2="187"/>
<line x1="545.1" y1="202.8" x2="567.3" y2="190.8"/>
<line x1="544.9" y1="206.3" x2="567.1" y2="194.4"/>
<line x1="544.1" y1="209.3" x2="566.4" y2="197.4"/>
<line x1="543" y1="211.8" x2="565.2" y2="199.9"/>
<line x1="541.3" y1="213.7" x2="563.6" y2="201.8"/>
<polygon points="487.4,201.8 487.6,200.3 487.9,198.9 488.4,197.7 489,196.7 489.8,196 490.7,195.4 507.7,187.4 508.7,187.1 509.8,187 510.9,187.2 512.1,187.5 513.4,188.2 514.6,189 515.9,190 517.1,191.3 518.3,192.7 519.4,194.2 520.4,195.9 521.2,197.6 522,199.4 522.6,201.2 523.1,203.1 523.5,204.9 523.6,206.6 523.6,208.2 523.4,209.7 523.1,211.1 522.6,212.3 522,213.3 521.2,214 520.3,214.6 503.3,222.6 502.3,222.9 501.2,223 500.1,222.8 498.9,222.5 497.6,221.8 496.4,221 495.1,220 493.9,218.7 492.7,217.3 491.6,215.8 490.6,214.1 489.8,212.4 489,210.6 488.4,208.8 487.9,206.9 487.6,205.1 487.4,203.4" fill="#fff"/>
<ellipse cx="497" cy="209" rx="15" ry="8" transform="rotate(65 497 209)"/>
<polyline points="494.1,193.8 495.2,193.5 496.4,193.4 497.6,193.6 499,194.1 500.4,194.9 501.7,195.9 503.1,197.2 504.4,198.7 505.6,200.3 506.7,202.1 507.7,204 508.5,206 509.1,208 509.6,210 509.9,211.9 510,213.7 509.9,215.5 509.7,217 509.2,218.4 508.5,219.5 507.7,220.4 506.7,221"/>
<line x1="495.4" y1="193.4" x2="509" y2="187"/>
<line x1="497.9" y1="193.7" x2="511.5" y2="187.3"/>
<line x1="500.5" y1="195" x2="514.1" y2="188.6"/>
<line x1="503.2" y1="197.3" x2="516.8" y2="190.9"/>
<line x1="505.6" y1="200.4" x2="519.2" y2="194"/>
<line x1="507.7" y1="204" x2="521.3" y2="197.6"/>
<line x1="509.1" y1="207.9" x2="522.7" y2="201.5"/>
<line x1="509.9" y1="211.7" x2="523.5" y2="205.3"/>
<line x1="510" y1="215.2" x2="523.6" y2="208.8"/>
<line x1="509.3" y1="218.1" x2="522.9" y2="211.7"/>
<line x1="507.9" y1="220.2" x2="521.5" y2="213.8"/>
<polygon points="477.6,213 477.6,212.3 477.8,211.7 478,211.1 478.3,210.6 478.6,210.2 479,209.8 479.5,209.6 491.5,204.6 492,204.4 492.5,204.3 493,204.3 493.6,204.4 494.2,204.7 494.8,205 495.3,205.3 495.9,205.8 496.4,206.4 496.9,207 497.3,207.6 497.6,208.3 497.9,209 498.2,209.8 498.3,210.5 498.4,211.2 498.4,212 498.4,212.7 498.2,213.3 498,213.9 497.7,214.4 497.4,214.8 497,215.2 496.5,215.4 484.5,220.4 484,220.6 483.5,220.7 483,220.7 482.4,220.6 481.8,220.3 481.2,220 480.7,219.7 480.1,219.2 479.6,218.6 479.1,218 478.7,217.4 478.4,216.7 478.1,216 477.8,215.2 477.7,214.5 477.6,213.8" fill="#fff"/>
<ellipse cx="482" cy="215" rx="6" ry="4" transform="rotate(65 482 215)"/>
<polyline points="485.5,207.1 486,206.9 486.6,206.8 487.2,206.9 487.8,207 488.5,207.3 489.1,207.7 489.7,208.1 490.2,208.7 490.8,209.3 491.2,210.1 491.6,210.8 491.9,211.6 492.2,212.4 492.4,213.2 492.4,214 492.4,214.8 492.3,215.5 492.1,216.2 491.8,216.7 491.5,217.2 491,217.6 490.5,217.9"/>
<line x1="632" y1="130" x2="632" y2="221" stroke-dasharray="6,3"/>
<polyline points="608,254 497,316" stroke-dasharray="6,3"/>
<polyline points="464,334.5 361,392.5 361,535 407,509.5" stroke-dasharray="6,3"/>
<polygon points="616.5,247.7 616.5,244.9 616.8,242.2 617.4,239.8 618.3,237.5 619.4,235.6 620.7,234 622.3,232.7 624,231.8 656,215.8 657.9,215.2 659.9,215.1 662,215.3 664.2,215.9 666.3,216.9 668.5,218.3 670.6,220 672.5,222 674.4,224.3 676.1,226.8 677.6,229.5 678.9,232.4 680,235.3 680.8,238.3 681.3,241.3 681.5,244.3 681.5,247.1 681.2,249.8 680.6,252.2 679.7,254.5 678.6,256.4 677.3,258 675.7,259.3 674,260.2 642,276.2 640.1,276.8 638.1,276.9 636,276.7 633.8,276.1 631.7,275.1 629.5,273.7 627.4,272 625.5,270 623.6,267.7 621.9,265.2 620.4,262.5 619.1,259.6 618,256.7 617.2,253.7 616.7,250.7" fill="#fff"/>
<polygon points="674.8,224.8 674.8,224.2 674.9,223.7 675,223.1 675.3,222.6 675.5,222.2 675.9,221.9 676.2,221.6 685.7,216.6 686.1,216.4 686.6,216.2 687,216.2 687.5,216.2 688,216.3 688.5,216.5 689,216.8 689.4,217.1 689.9,217.6 690.3,218 690.6,218.5 691,219.1 691.2,219.7 691.5,220.3 691.6,220.9 691.7,221.6 691.8,222.2 691.7,222.8 691.6,223.3 691.5,223.9 691.2,224.4 691,224.8 690.6,225.1 690.3,225.4 680.8,230.4 680.4,230.6 679.9,230.8 679.5,230.8 679,230.8 678.5,230.7 678,230.5 677.5,230.2 677.1,229.9 676.6,229.4 676.2,229 675.9,228.5 675.5,227.9 675.2,227.3 675,226.7 674.9,226.1 674.8,225.4" fill="#fff"/>
<ellipse cx="678.5" cy="226" rx="5" ry="3.5" transform="rotate(68 678.5 226)"/>
<ellipse cx="633" cy="254" rx="24" ry="15" transform="rotate(68 633 254)"/>
<ellipse cx="634" cy="253" rx="21" ry="12.5" transform="rotate(68 634 253)"/>
<polyline points="618.1,237.5 633.8,240.6 636.1,245.3 633.8,278.1 621.2,278.1 618.1,271.9 616.6,254.7" fill="#fff"/>
<polyline points="633.8,240.6 643.1,251.6 644.7,270.3 636.9,276.6"/>
<ellipse cx="640" cy="261.7" rx="3" ry="3.5" transform="rotate(30 640 261.7)"/>
<ellipse cx="621.2" cy="250" rx="5" ry="4.2" transform="rotate(30 621.2 250)" fill="#fff"/>
<ellipse cx="622.2" cy="250" rx="2.8" ry="2.2" transform="rotate(30 622.2 250)"/>
<line x1="623.1" y1="252" x2="619.1" y2="254"/>
<line x1="620.1" y1="251.9" x2="616.1" y2="253.9"/>
<line x1="618.6" y1="249.4" x2="614.6" y2="251.4"/>
<ellipse cx="620.5" cy="271.9" rx="5.5" ry="4.7" transform="rotate(30 620.5 271.9)" fill="#fff"/>
<ellipse cx="621.5" cy="271.9" rx="3" ry="2.5" transform="rotate(30 621.5 271.9)"/>
<line x1="622.5" y1="274" x2="618.5" y2="276"/>
<line x1="619.2" y1="274" x2="615.2" y2="276"/>
<line x1="617.6" y1="271.2" x2="613.6" y2="273.2"/>
<path d="M615,251.5 Q600,238 579,243"/>
<polyline points="557.2,246.9 557.2,242.2 571.2,239.1 578.3,243 578.3,253.9 568.9,260.9" fill="#fff"/>
<polygon points="549.4,250 557.2,246.9 568.9,249.2 568.9,260.9 560.3,262.5 549.4,260.2" fill="#fff"/>
<line x1="568.9" y1="249.2" x2="578.3" y2="243.8"/>
<line x1="558.8" y1="250" x2="558.8" y2="261.7"/>
<polyline points="555.6,261.7 558.8,265.6 563.4,267.2 566.6,264.8"/>
<polyline points="558.8,265.6 561.9,269.5 566.6,268"/>
<ellipse cx="716" cy="204" rx="26" ry="13.2" transform="rotate(55 716 204)" stroke="#fff" stroke-width="4"/>
<ellipse cx="716" cy="204" rx="28" ry="15" transform="rotate(55 716 204)"/>
<ellipse cx="716" cy="204" rx="24" ry="11.5" transform="rotate(55 716 204)"/>
<ellipse cx="706" cy="211" rx="26" ry="13.2" transform="rotate(55 706 211)" stroke="#fff" stroke-width="4"/>
<ellipse cx="706" cy="211" rx="28" ry="15" transform="rotate(55 706 211)"/>
<ellipse cx="706" cy="211" rx="24" ry="11.5" transform="rotate(55 706 211)"/>
<polyline points="689,201 691,205 694,202"/>
<polyline points="721,226 724,230 727,227"/>
<polyline points="731,218 734,222 736,219"/>
<polyline points="754.5,197.5 758.9,192.4 753.8,185.1 753,177 756.7,169.7 763.3,166.8 768.1,168.7 769.1,174.1 766.9,182.1 764.7,190.9 765.5,198.2 762.2,198.5" fill="#fff"/>
<polyline points="756.7,196.5 760.8,192.4 756,185.1 755.5,177.5 758.4,171.6 763.3,169.3 766.6,170.5 766.9,174.1 764.7,182.1 762.5,190.9 763.3,197.5"/>
<polyline points="763.6,199.2 767.9,194.1 762.8,186.8 762.1,178.8 765.8,171.5 772.3,168.6 777.1,170.5 778.2,175.9 776,183.9 773.8,192.7 774.5,200 771.3,200.3" fill="#fff"/>
<polyline points="765.8,198.2 769.8,194.1 765,186.8 764.6,179.2 767.5,173.4 772.3,171 775.7,172.2 776,175.9 773.8,183.9 771.6,192.7 772.3,199.2"/>
<polyline points="786.8,208.5 786.5,166.1 787.4,159.5 790.3,158 792.9,161 793.2,185.1 796.1,189.5 795.4,196.8 793.2,207 797.6,211.4 802.7,220.1 804.2,234.8 798.3,239.9 794.7,236.2 799.1,226 796.1,215.8 788.8,209.9" fill="#fff"/>
<polyline points="788.5,169 788.5,207" stroke-width="1.6"/>
<ellipse cx="791" cy="190.9" rx="2.5" ry="3" transform="rotate(0 791 190.9)"/>
<polyline points="786.8,208.5 780.1,208.5 777.1,215.8 776.4,227.5 780.8,230.4 785.9,226 784.5,212.8 788.1,210.6" fill="#fff"/>
<polyline points="794.7,169 803.5,165.3 806.4,218.7 813.7,214.3 812.2,204.1" stroke-dasharray="4,2"/>
<polygon points="750.8,230.5 756,228.5 769,237 769,245.5 766.5,246 752.5,237"/>
<line x1="756" y1="228.5" x2="752.5" y2="237"/>
<line x1="769" y1="237" x2="766.5" y2="246"/>
<line x1="901.4" y1="145.2" x2="871.8" y2="161.8"/>
<line x1="903.8" y1="149.5" x2="874.2" y2="166.2"/>
<ellipse cx="882.4" cy="158.7" rx="2.5" ry="1.6" transform="rotate(-119.35775354279127 882.4 158.7)"/>
<ellipse cx="880.3" cy="159.9" rx="2.5" ry="1.6" transform="rotate(-119.35775354279127 880.3 159.9)"/>
<ellipse cx="878.2" cy="161.1" rx="2.5" ry="1.6" transform="rotate(-119.35775354279127 878.2 161.1)"/>
<ellipse cx="876.1" cy="162.2" rx="2.5" ry="1.6" transform="rotate(-119.35775354279127 876.1 162.2)"/>
<ellipse cx="874" cy="163.4" rx="2.5" ry="1.6" transform="rotate(-119.35775354279127 874 163.4)"/>
<ellipse cx="873" cy="164" rx="2.5" ry="1.5" transform="rotate(-119.35775354279127 873 164)"/>
<polygon points="899,145.3 899.1,144.8 899.2,144.3 899.3,143.9 899.6,143.5 899.8,143.2 900.1,143 902.5,141.6 902.9,141.5 903.3,141.4 903.7,141.4 904.2,141.5 904.6,141.7 905.1,141.9 905.6,142.2 906,142.6 906.5,143 906.9,143.4 907.3,144 907.6,144.5 907.9,145.1 908.2,145.7 908.4,146.3 908.5,146.9 908.6,147.5 908.6,148 908.5,148.6 908.4,149 908.3,149.5 908,149.8 907.8,150.1 907.5,150.4 905,151.7 904.7,151.9 904.3,151.9 903.9,151.9 903.4,151.9 903,151.7 902.5,151.5 902,151.2 901.6,150.8 901.1,150.4 900.7,149.9 900.3,149.4 900,148.8 899.7,148.2 899.4,147.6 899.2,147 899.1,146.4 899,145.9" fill="#fff"/>
<polygon points="904.2,141.9 907.4,144.7 908.2,148.8 905.8,150.1 902.6,147.3 901.8,143.2"/>
<line x1="904.2" y1="141.9" x2="901.8" y2="143.2"/>
<line x1="901.8" y1="143.2" x2="899.5" y2="144.6"/>
<line x1="870" y1="166" x2="850" y2="177" stroke-dasharray="3,2"/>
<polygon points="897.4,216.1 897.4,214.9 897.6,213.8 897.9,212.8 898.2,211.9 898.7,211.1 899.2,210.4 899.9,209.9 908.9,205.4 909.6,205.1 910.3,204.9 911.2,204.9 912,205 912.9,205.3 913.7,205.8 914.6,206.4 915.4,207.2 916.2,208 916.9,209 917.6,210.1 918.1,211.2 918.6,212.4 919,213.7 919.3,214.9 919.5,216.2 919.6,217.4 919.6,218.6 919.4,219.7 919.1,220.7 918.8,221.6 918.3,222.4 917.8,223.1 917.1,223.6 908.1,228.1 907.4,228.4 906.7,228.6 905.8,228.6 905,228.5 904.1,228.2 903.3,227.7 902.4,227.1 901.6,226.3 900.8,225.5 900.1,224.5 899.4,223.4 898.9,222.3 898.4,221.1 898,219.8 897.7,218.6 897.5,217.3" fill="#fff"/>
<ellipse cx="904" cy="219" rx="10" ry="6" transform="rotate(70 904 219)"/>
<path d="M822.9,183.7 C824.5,179 826.9,177.4 831.5,175.1 C836.2,172.7 845.5,170.1 850.9,169.7 C856.3,169.3 860.3,170.6 863.9,172.9 C867.4,175.3 870.3,179 872.5,183.7 C874.6,188.4 875,197.9 876.8,200.9 C878.6,204 879.3,200.8 883.2,202 C887.2,203.3 896.3,205.4 900.5,208.5 C904.6,211.5 906.6,215.8 908,220.3 C909.5,224.8 910,229.3 909.1,235.4 C908.2,241.5 906.2,250.5 902.6,256.9 C899,263.4 893.7,269.1 887.6,274.2 C881.4,279.2 872.8,284.9 866,287.1 C859.2,289.3 852.7,289.3 846.6,287.1 C840.5,284.9 833.9,279.6 829.4,274.2 C824.9,268.8 821.7,261.6 819.7,254.8 C817.7,248 817.4,238.6 817.5,233.2 C817.7,227.9 820.1,227.5 820.8,222.5 C821.5,217.4 821.5,209.5 821.8,203.1 C822.2,196.6 821.3,188.4 822.9,183.7 Z" fill="#fff"/>
<path d="M822.9,224.6 C822.4,228.2 819,239.3 819.7,246.2 C820.4,253 823.1,259.6 827.2,265.6 C831.4,271.5 838.4,278.5 844.5,281.7 C850.6,284.9 857.8,285.8 863.9,284.9 C870,284 875.3,280.5 881.1,276.3 C886.8,272.2 894.4,266.6 898.3,260.2 C902.3,253.7 904.1,245.3 904.8,237.6 C905.5,229.8 906.6,219.4 902.6,213.9 C898.7,208.3 884.7,205.8 881.1,204.2"/>
<path d="M826.2,224.6 C825.7,228.2 822.6,239.5 823.4,246.2 C824.1,252.8 826.6,259 830.5,264.5 C834.3,269.9 841.1,276 846.6,278.9 C852.2,281.8 858.4,282.8 863.9,281.9 C869.3,281.1 874.1,277.7 879.4,273.7 C884.7,269.8 892,264 895.7,258 C899.4,252 900.9,244.5 901.6,237.6 C902.2,230.6 902.8,221.4 899.4,216.4 C896,211.5 884.1,209.3 881.1,207.8"/>
<path d="M829.4,196.6 C829.7,194.5 829.4,186.4 831.5,183.7 C833.7,181 838.7,180.5 842.3,180.5 C845.9,180.5 850.2,181 853.1,183.7 C856,186.4 858.3,192.3 859.5,196.6 C860.8,200.9 861.5,205.2 860.6,209.5 C859.7,213.9 855.1,218.9 854.2,222.5 C853.3,226.1 855.1,229.7 855.2,231.1"/>
<line x1="856.3" y1="182.6" x2="873.6" y2="179.4"/>
<line x1="859.5" y1="198.8" x2="877.9" y2="194.5"/>
<line x1="860" y1="211.7" x2="878.5" y2="206.3"/>
<path d="M855.2,220.3 C856.7,222.5 861.3,227.9 863.9,233.2 C866.4,238.6 869.1,246.5 870.3,252.6 C871.6,258.7 872.1,264.5 871.4,269.9 C870.7,275.3 866.9,282.4 866,284.9"/>
<path d="M858.5,222.5 C860,225 865.2,231.8 867.7,237.6 C870.3,243.3 872.8,251.2 873.8,256.9 C874.8,262.7 874.5,267.2 873.8,272 C873,276.9 870,283.7 869.2,286"/>
<path d="M881.1,205.2 C883.2,207 890.4,213.3 894,216 C897.6,218.7 900.8,218.9 902.6,221.4 C904.4,223.9 905.9,228.8 904.8,231.1 C903.7,233.4 898.1,236.5 896.2,235.4 C894.2,234.3 893.5,226.4 892.9,224.6" fill="#fff"/>
<ellipse cx="896.2" cy="224.6" rx="2.5" ry="4" transform="rotate(20 896.2 224.6)"/>
<polyline points="825.1,231.1 830.5,218.2 840.2,213.9 842.3,203.1 853.1,200.9"/>
<polyline points="827.2,254.8 850.9,248.3 850.9,231.1 842.3,231.1"/>
<polyline points="827.2,261.2 850.9,254.8"/>
<ellipse cx="827.2" cy="191.2" rx="2" ry="3" transform="rotate(30 827.2 191.2)"/>
<ellipse cx="855.2" cy="205.2" rx="2" ry="3" transform="rotate(30 855.2 205.2)"/>
<ellipse cx="834.8" cy="223.6" rx="2" ry="3" transform="rotate(30 834.8 223.6)"/>
<ellipse cx="832.6" cy="234.3" rx="2" ry="3" transform="rotate(30 832.6 234.3)"/>
<ellipse cx="827.2" cy="251.6" rx="2" ry="3" transform="rotate(30 827.2 251.6)"/>
<polygon points="802,106 812,90 826,82 820,100 810,104"/>
<ellipse cx="818" cy="94" rx="2" ry="3" transform="rotate(60 818 94)"/>
<ellipse cx="822" cy="88" rx="2" ry="3" transform="rotate(60 822 88)"/>
<line x1="790" y1="74" x2="812" y2="88" stroke-dasharray="3,2"/>
<polyline points="826,92 850,103 831,150 808,220" stroke-dasharray="4,2"/>
<line x1="799" y1="114.5" x2="812" y2="104"/>
<line x1="789.7" y1="72.2" x2="799.8" y2="77.7"/>
<line x1="792.1" y1="67.8" x2="802.2" y2="73.3"/>
<ellipse cx="795.9" cy="72.7" rx="2.5" ry="1.6" transform="rotate(118.44292862436335 795.9 72.7)"/>
<ellipse cx="797.9" cy="73.8" rx="2.5" ry="1.6" transform="rotate(118.44292862436335 797.9 73.8)"/>
<ellipse cx="800" cy="74.9" rx="2.5" ry="1.6" transform="rotate(118.44292862436335 800 74.9)"/>
<ellipse cx="801" cy="75.5" rx="2.5" ry="1.5" transform="rotate(118.44292862436335 801 75.5)"/>
<polygon points="786.2,70.7 786.2,70.2 786.2,69.8 786.3,69.3 786.5,68.8 786.7,68.3 786.9,67.9 787.2,67.4 787.5,67 787.8,66.6 788.1,66.2 788.5,66 788.9,65.7 789.2,65.5 789.6,65.4 790,65.3 790.3,65.3 790.6,65.4 790.9,65.5 792.8,66.5 793.1,66.7 793.3,67 793.5,67.2 793.6,67.6 793.7,68 793.8,68.4 793.8,68.8 793.7,69.3 793.6,69.8 793.5,70.2 793.3,70.7 793,71.2 792.8,71.6 792.5,72.1 792.2,72.5 791.8,72.8 791.5,73.1 791.1,73.3 790.7,73.5 790.3,73.7 790,73.7 789.6,73.7 789.3,73.7 789,73.6 787.1,72.5 786.8,72.3 786.6,72.1 786.4,71.8 786.3,71.5 786.2,71.1" fill="#fff"/>
<polygon points="786.5,71.3 787.1,68 789.6,65.7 791.5,66.7 790.9,70 788.4,72.3"/>
<line x1="786.5" y1="71.3" x2="788.4" y2="72.3"/>
<line x1="788.4" y1="72.3" x2="790.4" y2="73.4"/>
<polygon points="916.3,206.8 916.4,205.7 916.5,204.6 916.9,203.6 917.3,202.7 917.8,202 918.5,201.3 919.2,200.8 927.2,196.8 928.1,196.4 929,196.2 929.9,196.1 930.9,196.1 931.9,196.3 932.9,196.7 933.9,197.2 934.9,197.9 935.8,198.6 936.6,199.5 937.4,200.5 938.1,201.5 938.6,202.6 939.1,203.8 939.4,204.9 939.6,206.1 939.7,207.2 939.6,208.3 939.5,209.4 939.1,210.4 938.7,211.3 938.2,212 937.5,212.7 936.8,213.2 928.8,217.2 927.9,217.6 927,217.8 926.1,217.9 925.1,217.9 924.1,217.7 923.1,217.3 922.1,216.8 921.1,216.1 920.2,215.4 919.4,214.5 918.6,213.5 917.9,212.5 917.4,211.4 916.9,210.2 916.6,209.1 916.4,207.9" fill="#fff"/>
<ellipse cx="924" cy="209" rx="9.5" ry="7" transform="rotate(60 924 209)"/>
<ellipse cx="924" cy="209" rx="6" ry="4" transform="rotate(60 924 209)"/>
<ellipse cx="943.5" cy="197" rx="6.5" ry="9" transform="rotate(20 943.5 197)"/>
<ellipse cx="943.5" cy="197" rx="3" ry="4.5" transform="rotate(20 943.5 197)"/>
<line x1="810" y1="272" x2="824" y2="266" stroke-dasharray="3,2"/>
<ellipse cx="801.5" cy="278.5" rx="6" ry="7" transform="rotate(30 801.5 278.5)"/>
<ellipse cx="801.5" cy="278.5" rx="3" ry="4" transform="rotate(30 801.5 278.5)"/>
<ellipse cx="791.5" cy="285.5" rx="2.5" ry="4" transform="rotate(20 791.5 285.5)"/>
<ellipse cx="669.5" cy="357.5" rx="40" ry="24" transform="rotate(60 669.5 357.5)" fill="#fff"/>
<polyline points="684.5,333.1 687.9,337.3 691,341.7 693.8,346.5 696.1,351.4 697.9,356.4 699.3,361.4 700.1,366.2 700.4,370.9 700.1,375.2 699.3,379.2 697.9,382.7 696.1,385.7 693.8,388 691.1,389.8 688,390.8 684.6,391.2 681,390.8 677.2,389.8 673.3,388.1 669.4,385.7 665.5,382.8 661.8,379.3 658.3,375.3"/>
<ellipse cx="666" cy="357.5" rx="19.5" ry="15" transform="rotate(60 666 357.5)"/>
<line x1="661.3" y1="339.1" x2="664.3" y2="337.6"/>
<line x1="664.3" y1="339.2" x2="667.3" y2="337.7"/>
<line x1="667.3" y1="339.9" x2="670.3" y2="338.4"/>
<line x1="670.3" y1="341.2" x2="673.3" y2="339.7"/>
<line x1="673.2" y1="343.2" x2="676.2" y2="341.7"/>
<line x1="675.8" y1="345.6" x2="678.8" y2="344.1"/>
<line x1="678" y1="348.4" x2="681" y2="346.9"/>
<line x1="679.8" y1="351.6" x2="682.8" y2="350.1"/>
<line x1="681.2" y1="355" x2="684.2" y2="353.5"/>
<line x1="682" y1="358.5" x2="685" y2="357"/>
<line x1="682.2" y1="361.9" x2="685.2" y2="360.4"/>
<line x1="681.9" y1="365.2" x2="684.9" y2="363.7"/>
<line x1="681" y1="368.2" x2="684" y2="366.7"/>
<line x1="679.6" y1="370.8" x2="682.6" y2="369.3"/>
<ellipse cx="666" cy="357.5" rx="16.5" ry="12.5" transform="rotate(60 666 357.5)" fill="#fff"/>
<ellipse cx="666" cy="357.5" rx="14.5" ry="11" transform="rotate(60 666 357.5)"/>
<ellipse cx="668" cy="356.5" rx="10" ry="8" transform="rotate(60 668 356.5)"/>
<ellipse cx="669.5" cy="355.5" rx="6.5" ry="5.5" transform="rotate(60 669.5 355.5)"/>
<polygon points="690.7,338.9 690.8,337.9 690.9,336.9 691.2,336 691.6,335.2 692,334.6 692.6,334 693.3,333.6 699.8,330.1 700.5,329.8 701.3,329.6 702.1,329.6 703,329.7 703.9,330 704.8,330.4 705.6,330.9 706.5,331.6 707.3,332.4 708,333.2 708.7,334.2 709.3,335.2 709.8,336.2 710.2,337.3 710.5,338.4 710.7,339.5 710.8,340.6 710.7,341.6 710.6,342.6 710.3,343.5 709.9,344.3 709.5,344.9 708.9,345.5 708.2,345.9 701.7,349.4 701,349.8 700.2,349.9 699.4,349.9 698.5,349.8 697.6,349.5 696.7,349.1 695.9,348.6 695,347.9 694.2,347.1 693.5,346.3 692.8,345.3 692.2,344.3 691.7,343.3 691.3,342.2 691,341.1 690.8,340" fill="#fff"/>
<ellipse cx="697.5" cy="341.5" rx="9" ry="6" transform="rotate(62 697.5 341.5)"/>
<ellipse cx="697.5" cy="341.5" rx="5.5" ry="3.5" transform="rotate(62 697.5 341.5)"/>
<ellipse cx="715" cy="329" rx="11" ry="7.5" transform="rotate(65 715 329)"/>
<ellipse cx="715" cy="329" rx="7" ry="4.5" transform="rotate(65 715 329)"/>
<polyline points="735.8,325.9 735.2,326.5 734.6,326.9 733.9,327.2 733.1,327.4 732.3,327.4 731.6,327.3 730.8,327.1 730.1,326.7 729.3,326.1 728.7,325.5 728.1,324.7 727.6,323.9 727.2,323 726.8,322 726.6,321 726.5,319.9 726.4,318.9 726.5,317.9 726.7,316.9 727,316 727.4,315.2 727.9,314.4 728.5,313.8 729.1,313.3 729.8,312.9 730.5,312.7 731.3,312.6 732,312.6 732.8,312.8 733.6,313.1"/>
<polyline points="734.3,324 734,324.4 733.6,324.6 733.2,324.8 732.8,324.9 732.3,324.9 731.9,324.9 731.4,324.7 731,324.4 730.5,324 730.1,323.6 729.8,323.1 729.5,322.5 729.2,321.9 729,321.2 728.8,320.6 728.8,319.9 728.7,319.2 728.8,318.5 728.9,317.9 729,317.3 729.2,316.7 729.5,316.2 729.8,315.8 730.2,315.5 730.6,315.2 731,315.1 731.5,315 731.9,315.1 732.4,315.2 732.8,315.5"/>
<ellipse cx="640" cy="372.5" rx="8" ry="10.5" transform="rotate(20 640 372.5)"/>
<ellipse cx="640" cy="372.5" rx="4.5" ry="7" transform="rotate(20 640 372.5)"/>
<polygon points="764,292.5 764,291.2 764.2,289.9 764.6,288.7 765.1,287.6 765.7,286.7 766.5,286 767.4,285.4 778.4,279.4 779.3,279 780.4,278.8 781.5,278.8 782.6,278.9 783.8,279.3 785,279.9 786.2,280.6 787.3,281.4 788.4,282.5 789.4,283.6 790.3,284.9 791.1,286.2 791.7,287.7 792.3,289.1 792.7,290.6 792.9,292.1 793,293.5 793,294.8 792.8,296.1 792.4,297.3 791.9,298.4 791.3,299.3 790.5,300 789.6,300.6 778.6,306.6 777.7,307 776.6,307.2 775.5,307.2 774.4,307.1 773.2,306.7 772,306.1 770.8,305.4 769.7,304.6 768.6,303.5 767.6,302.4 766.7,301.1 765.9,299.8 765.3,298.3 764.7,296.9 764.3,295.4 764.1,293.9" fill="#fff"/>
<line x1="769.4" y1="284.8" x2="780.4" y2="278.8"/>
<line x1="772.7" y1="285.2" x2="783.7" y2="279.2"/>
<line x1="776" y1="287.2" x2="787" y2="281.2"/>
<line x1="778.9" y1="290.3" x2="789.9" y2="284.3"/>
<line x1="781" y1="294.3" x2="792" y2="288.3"/>
<line x1="782" y1="298.5" x2="793" y2="292.5"/>
<line x1="781.7" y1="302.3" x2="792.7" y2="296.3"/>
<line x1="780.3" y1="305.3" x2="791.3" y2="299.3"/>
<polygon points="741.2,299.3 741.2,297.1 741.5,295.1 742,293.3 742.7,291.7 743.6,290.2 744.8,289.1 746.1,288.2 758.1,282.2 759.5,281.6 761.1,281.3 762.8,281.4 764.6,281.6 766.4,282.3 768.2,283.1 770,284.3 771.7,285.7 773.4,287.4 774.9,289.2 776.3,291.2 777.6,293.4 778.7,295.6 779.5,297.9 780.2,300.2 780.6,302.5 780.8,304.7 780.8,306.9 780.5,308.9 780,310.7 779.3,312.3 778.4,313.8 777.2,314.9 775.9,315.8 763.9,321.8 762.5,322.4 760.9,322.7 759.2,322.6 757.4,322.4 755.6,321.7 753.8,320.9 752,319.7 750.3,318.3 748.6,316.6 747.1,314.8 745.7,312.8 744.4,310.6 743.3,308.4 742.5,306.1 741.8,303.8 741.4,301.5" fill="#fff"/>
<ellipse cx="755" cy="305" rx="19" ry="12" transform="rotate(62 755 305)"/>
<ellipse cx="755" cy="305" rx="15.5" ry="9.5" transform="rotate(62 755 305)"/>
<polygon points="735.3,306.3 735.3,305 735.5,303.7 735.8,302.6 736.3,301.6 736.8,300.7 737.5,299.9 738.4,299.4 747.4,294.9 748.3,294.5 749.3,294.4 750.3,294.4 751.4,294.6 752.6,294.9 753.7,295.5 754.8,296.3 755.9,297.1 757,298.2 757.9,299.4 758.8,300.6 759.6,302 760.3,303.4 760.9,304.8 761.3,306.3 761.5,307.8 761.7,309.2 761.7,310.5 761.5,311.8 761.2,312.9 760.7,313.9 760.2,314.8 759.5,315.6 758.6,316.1 749.6,320.6 748.7,321 747.7,321.1 746.7,321.1 745.6,320.9 744.4,320.6 743.3,320 742.2,319.2 741.1,318.4 740,317.3 739.1,316.1 738.2,314.9 737.4,313.5 736.7,312.1 736.1,310.7 735.7,309.2 735.5,307.8" fill="#fff"/>
<ellipse cx="744" cy="310" rx="12" ry="7.5" transform="rotate(62 744 310)"/>
<ellipse cx="744" cy="310" rx="7.5" ry="4.8" transform="rotate(62 744 310)"/>
<polygon points="603.3,391.2 603.3,390.8 603.4,390.5 603.5,390.1 603.7,389.9 603.9,389.6 604.1,389.5 626.1,377.5 626.4,377.4 626.7,377.3 627,377.3 627.3,377.4 627.7,377.6 628,377.8 628.4,378 628.7,378.3 629.1,378.7 629.4,379.1 629.7,379.5 629.9,380 630.2,380.4 630.4,380.9 630.5,381.4 630.6,381.9 630.7,382.3 630.7,382.8 630.7,383.2 630.6,383.5 630.5,383.9 630.3,384.1 630.1,384.4 629.9,384.5 607.9,396.5 607.6,396.6 607.3,396.7 607,396.7 606.7,396.6 606.3,396.4 606,396.2 605.6,396 605.3,395.7 604.9,395.3 604.6,394.9 604.3,394.5 604.1,394 603.8,393.6 603.6,393.1 603.5,392.6 603.4,392.1 603.3,391.7" fill="#fff"/>
<ellipse cx="628" cy="381" rx="4" ry="2.2" transform="rotate(62 628 381)"/>
<polygon points="582,400.1 582.1,399.1 582.3,398.1 582.6,397.3 583,396.6 583.5,396.1 584.1,395.7 597.7,387 598.4,386.7 599.1,386.6 599.9,386.6 600.8,386.9 601.6,387.2 602.5,387.7 603.4,388.4 604.3,389.1 605.1,390 605.9,391 606.6,392.1 607.3,393.2 607.8,394.4 608.3,395.6 608.7,396.8 609,398 609.1,399.1 609.1,400.2 609.1,401.2 608.9,402.2 608.6,403 608.2,403.7 607.7,404.2 607.1,404.6 593.5,413.3 592.8,413.6 592.1,413.7 591.3,413.6 590.4,413.4 589.6,413.1 588.7,412.6 587.8,411.9 586.9,411.1 586.1,410.3 585.3,409.3 584.6,408.2 583.9,407.1 583.4,405.9 582.9,404.7 582.5,403.5 582.2,402.3 582.1,401.2" fill="#fff"/>
<line x1="585" y1="395.4" x2="601.3" y2="387.1"/>
<line x1="587.5" y1="395.7" x2="604.1" y2="389"/>
<line x1="590.3" y1="397.5" x2="606.5" y2="392"/>
<line x1="592.8" y1="400.4" x2="608.3" y2="395.6"/>
<line x1="594.6" y1="404" x2="609.1" y2="399.3"/>
<line x1="595.5" y1="407.7" x2="608.8" y2="402.3"/>
<line x1="595.3" y1="410.9" x2="607.5" y2="404.4"/>
<polygon points="560.5,406.4 560.5,405 560.8,403.7 561.2,402.4 561.7,401.3 562.4,400.4 563.2,399.6 564.1,399 573.1,395 574.2,394.5 575.3,394.3 576.5,394.3 577.7,394.4 578.9,394.8 580.2,395.4 581.4,396.1 582.6,397 583.7,398.1 584.7,399.3 585.7,400.6 586.5,402 587.2,403.5 587.8,405 588.2,406.5 588.4,408.1 588.5,409.6 588.5,411 588.2,412.3 587.8,413.6 587.3,414.7 586.6,415.6 585.8,416.4 584.9,417 575.9,421 574.8,421.5 573.7,421.7 572.5,421.7 571.3,421.6 570.1,421.2 568.8,420.6 567.6,419.9 566.4,419 565.3,417.9 564.3,416.7 563.3,415.4 562.5,414 561.8,412.5 561.2,411 560.8,409.5 560.6,407.9" fill="#fff"/>
<ellipse cx="570" cy="410" rx="12.5" ry="8.5" transform="rotate(62 570 410)"/>
<ellipse cx="570.5" cy="410" rx="8" ry="5.5" transform="rotate(62 570.5 410)"/>
<polyline points="563,403 570,399 576,412 572,420"/>
<polygon points="564.4,420.9 564.4,420.6 564.5,420.3 564.6,420.1 564.7,419.8 564.9,419.6 565.1,419.4 565.3,419.3 571.8,416.3 572.1,416.2 572.3,416.1 572.6,416.1 572.9,416.1 573.1,416.2 573.4,416.3 573.7,416.4 573.9,416.6 574.2,416.8 574.4,417 574.6,417.3 574.8,417.6 574.9,417.9 575,418.2 575.1,418.5 575.1,418.8 575.1,419.1 575.1,419.4 575,419.7 574.9,419.9 574.8,420.2 574.6,420.4 574.4,420.6 574.2,420.7 567.7,423.7 567.4,423.8 567.2,423.9 566.9,423.9 566.6,423.9 566.4,423.8 566.1,423.7 565.8,423.6 565.6,423.4 565.3,423.2 565.1,423 564.9,422.7 564.7,422.4 564.6,422.1 564.5,421.8 564.4,421.5 564.4,421.2" fill="#fff"/>
<ellipse cx="566.5" cy="421.5" rx="2.5" ry="2" transform="rotate(62 566.5 421.5)"/>
<polygon points="559.9,404.9 559.9,404.6 560,404.3 560.1,404.1 560.2,403.8 560.4,403.6 560.6,403.4 560.8,403.3 566.8,400.3 567.1,400.2 567.3,400.1 567.6,400.1 567.9,400.1 568.1,400.2 568.4,400.3 568.7,400.4 568.9,400.6 569.2,400.8 569.4,401 569.6,401.3 569.8,401.6 569.9,401.9 570,402.2 570.1,402.5 570.1,402.8 570.1,403.1 570.1,403.4 570,403.7 569.9,403.9 569.8,404.2 569.6,404.4 569.4,404.6 569.2,404.7 563.2,407.7 562.9,407.8 562.7,407.9 562.4,407.9 562.1,407.9 561.9,407.8 561.6,407.7 561.3,407.6 561.1,407.4 560.8,407.2 560.6,407 560.4,406.7 560.2,406.4 560.1,406.1 560,405.8 559.9,405.5 559.9,405.2" fill="#fff"/>
<ellipse cx="562" cy="405.5" rx="2.5" ry="2" transform="rotate(62 562 405.5)"/>
<polygon points="534.5,414 534.6,413.1 534.8,412.3 535,411.6 535.4,410.9 535.8,410.3 536.4,409.8 537,409.4 543.5,406.4 544.1,406.1 544.9,405.9 545.6,405.9 546.4,406 547.2,406.2 547.9,406.5 548.7,406.9 549.5,407.4 550.1,408.1 550.8,408.8 551.4,409.6 551.9,410.4 552.3,411.3 552.6,412.2 552.8,413.1 553,414.1 553,415 552.9,415.9 552.8,416.7 552.5,417.4 552.1,418.1 551.7,418.7 551.1,419.2 550.5,419.6 544,422.6 543.4,422.9 542.6,423.1 541.9,423.1 541.1,423 540.3,422.8 539.6,422.5 538.8,422.1 538,421.6 537.4,420.9 536.7,420.2 536.1,419.4 535.6,418.6 535.2,417.7 534.9,416.8 534.7,415.9 534.5,414.9" fill="#fff"/>
<ellipse cx="540.5" cy="416" rx="7.5" ry="5.5" transform="rotate(62 540.5 416)"/>
<ellipse cx="540.5" cy="416" rx="3.8" ry="2.8" transform="rotate(62 540.5 416)"/>
<line x1="539.4" y1="408.9" x2="545.9" y2="405.9"/>
<line x1="543.7" y1="411.2" x2="550.2" y2="408.2"/>
<line x1="546.3" y1="416" x2="552.8" y2="413"/>
<line x1="545.7" y1="420.9" x2="552.2" y2="417.9"/>
<polygon points="522.5,434.1 522.5,433.3 522.7,432.5 523,431.8 523.3,431.2 523.7,430.6 524.2,430.2 524.7,429.8 532.7,426.3 533.3,426.1 534,425.9 534.6,425.9 535.4,426 536.1,426.2 536.8,426.5 537.5,426.9 538.2,427.4 538.8,428 539.4,428.6 540,429.4 540.4,430.1 540.8,431 541.1,431.8 541.3,432.7 541.5,433.6 541.5,434.4 541.5,435.2 541.3,436 541,436.7 540.7,437.3 540.3,437.9 539.8,438.3 539.3,438.7 531.3,442.2 530.7,442.4 530,442.6 529.4,442.6 528.6,442.5 527.9,442.3 527.2,442 526.5,441.6 525.8,441.1 525.2,440.5 524.6,439.9 524,439.1 523.6,438.4 523.2,437.5 522.9,436.7 522.7,435.8 522.5,434.9" fill="#fff"/>
<ellipse cx="528" cy="436" rx="7" ry="5" transform="rotate(62 528 436)"/>
<ellipse cx="528" cy="436" rx="3.8" ry="2.8" transform="rotate(62 528 436)"/>
<line x1="539.5" y1="429" x2="566.5" y2="415.5"/>
<path d="M410.6,469.1 C412.5,464.6 410.4,462.5 413,460.2 C415.6,457.9 421.1,455.8 425.9,455.3 C430.8,454.9 436.7,454.9 442.1,457.8 C447.5,460.6 453.9,465.3 458.2,472.3 C462.5,479.3 466.7,491.7 467.9,499.8 C469.1,507.9 467.9,515.9 465.5,520.8 C463.1,525.6 458.1,527.4 453.4,528.9 C448.7,530.3 442.9,530.5 437.2,529.7 C431.6,528.9 424.9,527.6 419.5,524 C414.1,520.4 407.9,514 404.9,507.9 C402,501.7 400.8,493.3 401.7,486.8 C402.6,480.4 408.7,473.5 410.6,469.1 Z" fill="#fff"/>
<path d="M421.1,457.8 C424.3,458.2 434.7,457.5 440.5,460.2 C446.3,462.9 451.7,467.3 455.8,473.9 C459.9,480.5 463.9,492.2 465,499.8 C466.2,507.3 465,514.6 462.8,519.2 C460.6,523.7 453.6,525.9 451.8,527.2"/>
<path d="M409.8,470.7 C411.7,469.6 416.5,465 421.1,464.2 C425.7,463.4 431.9,462.9 437.2,465.8 C442.6,468.8 449.4,475.5 453.4,482 C457.4,488.5 460.9,498.2 461.5,504.6 C462,511.1 459.6,516.9 456.6,520.8 C453.7,524.7 445.9,526.8 443.7,528"/>
<path d="M409.8,470.7 C405.7,472.8 402.2,480.4 401.7,486.8 C401.2,493.3 403.6,503.3 406.5,509.5 C409.5,515.7 414.6,520.8 419.5,524 C424.3,527.2 431.3,529.1 435.6,528.9 C439.9,528.6 443.4,525.9 445.3,522.4 C447.2,518.9 447.7,513.5 446.9,507.9 C446.1,502.2 444,494.1 440.5,488.5 C437,482.8 431,476.9 425.9,473.9 C420.8,471 413.8,468.5 409.8,470.7 Z" fill="#fff"/>
<path d="M437.2,482 C438.4,485.2 443.2,495.5 444.5,501.4 C445.9,507.3 446,513.2 445.3,517.5 C444.6,521.9 441.3,525.6 440.5,527.2"/>
<polygon points="413.1,501.2 413.3,500.3 413.5,499.5 413.8,498.7 414.2,498 414.7,497.3 415.3,496.8 416,496.4 421.5,493.4 422.2,493.1 423,492.9 423.8,492.8 424.6,492.9 425.4,493 426.3,493.3 427.1,493.7 427.8,494.2 428.6,494.9 429.2,495.6 429.8,496.3 430.3,497.2 430.7,498.1 431,499 431.2,499.9 431.4,500.9 431.4,501.8 431.2,502.7 431,503.5 430.7,504.3 430.3,505 429.8,505.7 429.2,506.2 428.5,506.6 423,509.6 422.3,509.9 421.5,510.1 420.7,510.2 419.9,510.1 419.1,510 418.2,509.7 417.4,509.3 416.7,508.8 415.9,508.1 415.3,507.4 414.7,506.7 414.2,505.8 413.8,504.9 413.5,504 413.3,503.1 413.1,502.1" fill="#fff"/>
<ellipse cx="419.5" cy="503" rx="7.5" ry="6" transform="rotate(62 419.5 503)"/>
<ellipse cx="419.5" cy="503" rx="4" ry="3.2" transform="rotate(62 419.5 503)"/>
<polygon points="457.3,459.4 457.4,456.7 457.8,454.1 458.5,451.9 459.5,449.9 460.9,448.3 462.5,447 477,439.5 478.8,438.6 480.8,438.2 483.1,438.1 485.4,438.4 487.9,439.2 490.4,440.3 492.9,441.8 495.4,443.6 497.8,445.8 500.1,448.2 502.2,450.9 504.1,453.8 505.9,456.8 507.3,459.9 508.5,463 509.4,466.1 510,469.2 510.2,472.1 510.1,474.8 509.7,477.4 509,479.6 508,481.6 506.6,483.2 505,484.5 490.5,492 488.7,492.9 486.7,493.3 484.4,493.4 482.1,493.1 479.6,492.3 477.1,491.2 474.6,489.7 472.1,487.9 469.7,485.7 467.4,483.2 465.3,480.6 463.4,477.7 461.6,474.7 460.2,471.6 459,468.5 458.1,465.4 457.5,462.3" fill="#fff"/>
<ellipse cx="476.5" cy="469.5" rx="26.5" ry="15.5" transform="rotate(58 476.5 469.5)"/>
<ellipse cx="476.5" cy="469.5" rx="24" ry="13.5" transform="rotate(58 476.5 469.5)"/>
<ellipse cx="477" cy="469" rx="21" ry="11" transform="rotate(58 477 469)"/>
<ellipse cx="482" cy="467.5" rx="15" ry="8" transform="rotate(58 482 467.5)" fill="#fff"/>
<line x1="463.4" y1="465.1" x2="471.8" y2="463"/>
<line x1="462.6" y1="460.8" x2="471.6" y2="460.1"/>
<line x1="462.6" y1="457" x2="472" y2="457.6"/>
<line x1="463.5" y1="453.9" x2="473" y2="455.7"/>
<line x1="465.2" y1="451.6" x2="474.5" y2="454.5"/>
<line x1="467.7" y1="450.4" x2="476.5" y2="454.1"/>
<line x1="470.6" y1="450.4" x2="478.9" y2="454.5"/>
<line x1="474" y1="451.4" x2="481.4" y2="455.6"/>
<line x1="477.5" y1="453.4" x2="483.9" y2="457.5"/>
</g>
<path fill="none" stroke="#000" stroke-width="1" shape-rendering="crispEdges" d="M160.5,44.5 L162.5,44.5 L164.5,46.5 L164.5,52.5 L162.5,54.5 L160.5,54.5 L158.5,52.5 L158.5,46.5 L160.5,44.5 M168.5,46.5 L170.5,44.5 L170.5,54.5 M168.5,54.5 L172.5,54.5 M176.5,46.5 L178.5,44.5 L178.5,54.5 M175.5,54.5 L179.5,54.5 M183.5,46.5 L185.5,44.5 L189.5,44.5 L191.5,46.5 L191.5,48.5 L189.5,49.5 L184.5,49.5 L183.5,51.5 L183.5,54.5 L191.5,54.5 M195.5,46.5 L197.5,44.5 L197.5,54.5 M194.5,54.5 L198.5,54.5 M202.5,49.5 L210.5,49.5 M216.5,44.5 L218.5,44.5 L220.5,46.5 L220.5,52.5 L218.5,54.5 L216.5,54.5 L214.5,52.5 L214.5,46.5 L216.5,44.5 M224.5,46.5 L226.5,44.5 L226.5,54.5 M223.5,54.5 L227.5,54.5 M236.5,54.5 L236.5,44.5 L231.5,50.5 L239.5,50.5 M248.5,54.5 L248.5,44.5 L242.5,50.5 L250.5,50.5 M255.5,46.5 L257.5,44.5 L257.5,54.5 M254.5,54.5 L258.5,54.5 M170.5,60.5 L166.5,63.5 L166.5,66.5 L170.5,69.5 M175.5,62.5 L177.5,60.5 L177.5,69.5 M175.5,69.5 L179.5,69.5 M184.5,60.5 L188.5,63.5 L188.5,66.5 L184.5,69.5 M197.5,60.5 L193.5,63.5 L193.5,66.5 L197.5,69.5 M204.5,60.5 L206.5,60.5 L208.5,62.5 L208.5,67.5 L206.5,69.5 L204.5,69.5 L202.5,67.5 L202.5,62.5 L204.5,60.5 M219.5,60.5 L213.5,64.5 L213.5,67.5 L215.5,69.5 L218.5,69.5 L220.5,67.5 L220.5,67.5 L218.5,65.5 L213.5,65.5 M232.5,65.5 L227.5,65.5 L225.5,63.5 L225.5,62.5 L227.5,60.5 L230.5,60.5 L232.5,62.5 L232.5,65.5 L228.5,69.5 L226.5,69.5 M238.5,60.5 L240.5,60.5 L242.5,62.5 L242.5,67.5 L240.5,69.5 L238.5,69.5 L236.5,67.5 L236.5,62.5 L238.5,60.5 M247.5,65.5 L255.5,65.5 M262.5,60.5 L264.5,60.5 L266.5,62.5 L266.5,67.5 L264.5,69.5 L262.5,69.5 L260.5,67.5 L260.5,62.5 L262.5,60.5 M278.5,65.5 L273.5,65.5 L271.5,63.5 L271.5,62.5 L273.5,60.5 L276.5,60.5 L278.5,62.5 L278.5,65.5 L275.5,69.5 L273.5,69.5 M290.5,65.5 L285.5,65.5 L283.5,63.5 L283.5,62.5 L285.5,60.5 L288.5,60.5 L290.5,62.5 L290.5,65.5 L287.5,69.5 L285.5,69.5 M301.5,69.5 L301.5,60.5 L295.5,65.5 L303.5,65.5 M308.5,60.5 L312.5,63.5 L312.5,66.5 L308.5,69.5 M338.5,46.5 L340.5,46.5 L342.5,48.5 L342.5,53.5 L340.5,55.5 L338.5,55.5 L336.5,53.5 L336.5,48.5 L338.5,46.5 M348.5,46.5 L352.5,46.5 L353.5,47.5 L353.5,49.5 L352.5,51.5 L348.5,51.5 L346.5,49.5 L346.5,47.5 L348.5,46.5 M348.5,51.5 L346.5,52.5 L346.5,53.5 L348.5,55.5 L352.5,55.5 L354.5,53.5 L354.5,52.5 L352.5,51.5 M358.5,48.5 L360.5,46.5 L360.5,55.5 M358.5,55.5 L362.5,55.5 M366.5,48.5 L368.5,46.5 L372.5,46.5 L374.5,48.5 L374.5,50.5 L372.5,51.5 L367.5,51.5 L366.5,52.5 L366.5,55.5 L374.5,55.5 M378.5,48.5 L380.5,46.5 L380.5,55.5 M378.5,55.5 L382.5,55.5 M386.5,51.5 L394.5,51.5 M399.5,46.5 L401.5,46.5 L403.5,48.5 L403.5,53.5 L401.5,55.5 L399.5,55.5 L397.5,53.5 L397.5,48.5 L399.5,46.5 M407.5,46.5 L414.5,46.5 L409.5,55.5 M420.5,46.5 L422.5,46.5 L424.5,48.5 L424.5,53.5 L422.5,55.5 L420.5,55.5 L418.5,53.5 L418.5,48.5 L420.5,46.5 M429.5,48.5 L431.5,46.5 L431.5,55.5 M428.5,55.5 L432.5,55.5 M443.5,46.5 L436.5,46.5 L436.5,55.5 M436.5,51.5 L442.5,51.5 M336.5,62.5 L332.5,65.5 L332.5,68.5 L336.5,71.5 M341.5,64.5 L343.5,62.5 L343.5,71.5 M341.5,71.5 L345.5,71.5 M350.5,62.5 L354.5,65.5 L354.5,68.5 L350.5,71.5 M363.5,62.5 L359.5,65.5 L359.5,68.5 L363.5,71.5 M370.5,62.5 L372.5,62.5 L374.5,64.5 L374.5,69.5 L372.5,71.5 L370.5,71.5 L368.5,69.5 L368.5,64.5 L370.5,62.5 M386.5,67.5 L381.5,67.5 L379.5,65.5 L379.5,64.5 L381.5,62.5 L384.5,62.5 L386.5,64.5 L386.5,67.5 L382.5,71.5 L380.5,71.5 M398.5,67.5 L393.5,67.5 L391.5,65.5 L391.5,64.5 L393.5,62.5 L396.5,62.5 L398.5,64.5 L398.5,67.5 L394.5,71.5 L392.5,71.5 M408.5,71.5 L408.5,62.5 L402.5,67.5 L410.5,67.5 M415.5,67.5 L423.5,67.5 M468.5,62.5 L472.5,65.5 L472.5,68.5 L468.5,71.5 M31.5,174.5 L33.5,174.5 L35.5,176.5 L35.5,183.5 L33.5,185.5 L31.5,185.5 L29.5,183.5 L29.5,176.5 L31.5,174.5 M41.5,174.5 L45.5,174.5 L46.5,176.5 L46.5,178.5 L45.5,180.5 L41.5,180.5 L39.5,178.5 L39.5,176.5 L41.5,174.5 M41.5,180.5 L39.5,182.5 L39.5,183.5 L41.5,185.5 L45.5,185.5 L47.5,183.5 L47.5,182.5 L45.5,180.5 M51.5,176.5 L53.5,174.5 L53.5,185.5 M51.5,185.5 L55.5,185.5 M58.5,176.5 L60.5,174.5 L64.5,174.5 L66.5,176.5 L66.5,179.5 L65.5,180.5 L60.5,180.5 L58.5,182.5 L58.5,185.5 L66.5,185.5 M71.5,176.5 L73.5,174.5 L73.5,185.5 M70.5,185.5 L74.5,185.5 M78.5,180.5 L86.5,180.5 M92.5,174.5 L94.5,174.5 L96.5,176.5 L96.5,183.5 L94.5,185.5 L92.5,185.5 L90.5,183.5 L90.5,176.5 L92.5,174.5 M100.5,176.5 L102.5,174.5 L106.5,174.5 L108.5,176.5 L108.5,179.5 L106.5,180.5 L103.5,180.5 M106.5,180.5 L108.5,182.5 L108.5,183.5 L106.5,185.5 L102.5,185.5 L100.5,183.5 M119.5,174.5 L111.5,174.5 L111.5,180.5 L117.5,180.5 L119.5,182.5 L119.5,183.5 L117.5,185.5 L113.5,185.5 L111.5,183.5 M124.5,176.5 L126.5,174.5 L126.5,185.5 M123.5,185.5 L127.5,185.5 M138.5,174.5 L131.5,174.5 L131.5,185.5 M131.5,180.5 L137.5,180.5 M34.5,191.5 L30.5,194.5 L30.5,197.5 L34.5,200.5 M42.5,193.5 L44.5,191.5 L44.5,200.5 M41.5,200.5 L45.5,200.5 M52.5,191.5 L56.5,194.5 L56.5,197.5 L52.5,200.5 M31.5,209.5 L33.5,209.5 L35.5,211.5 L35.5,217.5 L33.5,219.5 L31.5,219.5 L29.5,217.5 L29.5,211.5 L31.5,209.5 M41.5,209.5 L45.5,209.5 L46.5,210.5 L46.5,213.5 L45.5,214.5 L41.5,214.5 L39.5,213.5 L39.5,210.5 L41.5,209.5 M41.5,214.5 L39.5,216.5 L39.5,217.5 L41.5,219.5 L45.5,219.5 L47.5,217.5 L47.5,216.5 L45.5,214.5 M58.5,214.5 L53.5,214.5 L51.5,212.5 L51.5,211.5 L53.5,209.5 L56.5,209.5 L58.5,211.5 L58.5,214.5 L54.5,219.5 L52.5,219.5 M62.5,211.5 L64.5,209.5 L64.5,219.5 M61.5,219.5 L65.5,219.5 M77.5,209.5 L69.5,209.5 L69.5,214.5 L75.5,214.5 L77.5,216.5 L77.5,217.5 L75.5,219.5 L71.5,219.5 L69.5,217.5 M81.5,214.5 L89.5,214.5 M93.5,211.5 L95.5,209.5 L95.5,219.5 M93.5,219.5 L97.5,219.5 M101.5,211.5 L103.5,209.5 L107.5,209.5 L109.5,211.5 L109.5,213.5 L107.5,214.5 L104.5,214.5 M107.5,214.5 L109.5,216.5 L109.5,217.5 L107.5,219.5 L103.5,219.5 L101.5,217.5 M114.5,209.5 L118.5,209.5 L120.5,210.5 L120.5,213.5 L118.5,214.5 L114.5,214.5 L113.5,213.5 L113.5,210.5 L114.5,209.5 M114.5,214.5 L112.5,216.5 L112.5,217.5 L114.5,219.5 L118.5,219.5 L120.5,217.5 L120.5,216.5 L118.5,214.5 M125.5,211.5 L127.5,209.5 L127.5,219.5 M124.5,219.5 L128.5,219.5 M132.5,219.5 L136.5,209.5 L140.5,219.5 M134.5,215.5 L139.5,215.5 M34.5,225.5 L30.5,228.5 L30.5,231.5 L34.5,234.5 M42.5,227.5 L44.5,225.5 L44.5,234.5 M41.5,234.5 L45.5,234.5 M52.5,225.5 L56.5,228.5 L56.5,231.5 L52.5,234.5 M31.5,242.5 L33.5,242.5 L35.5,244.5 L35.5,250.5 L33.5,252.5 L31.5,252.5 L29.5,250.5 L29.5,244.5 L31.5,242.5 M41.5,242.5 L45.5,242.5 L46.5,243.5 L46.5,246.5 L45.5,247.5 L41.5,247.5 L39.5,246.5 L39.5,243.5 L41.5,242.5 M41.5,247.5 L39.5,249.5 L39.5,250.5 L41.5,252.5 L45.5,252.5 L47.5,250.5 L47.5,249.5 L45.5,247.5 M58.5,247.5 L53.5,247.5 L51.5,245.5 L51.5,244.5 L53.5,242.5 L56.5,242.5 L58.5,244.5 L58.5,247.5 L54.5,252.5 L52.5,252.5 M62.5,244.5 L64.5,242.5 L64.5,252.5 M61.5,252.5 L65.5,252.5 M70.5,244.5 L72.5,242.5 L72.5,252.5 M69.5,252.5 L73.5,252.5 M77.5,247.5 L85.5,247.5 M89.5,244.5 L91.5,242.5 L95.5,242.5 L97.5,244.5 L97.5,246.5 L95.5,247.5 L92.5,247.5 M95.5,247.5 L97.5,249.5 L97.5,250.5 L95.5,252.5 L91.5,252.5 L89.5,250.5 M103.5,242.5 L105.5,242.5 L107.5,244.5 L107.5,250.5 L105.5,252.5 L103.5,252.5 L101.5,250.5 L101.5,244.5 L103.5,242.5 M112.5,242.5 L116.5,242.5 L118.5,243.5 L118.5,246.5 L116.5,247.5 L112.5,247.5 L111.5,246.5 L111.5,243.5 L112.5,242.5 M112.5,247.5 L110.5,249.5 L110.5,250.5 L112.5,252.5 L116.5,252.5 L118.5,250.5 L118.5,249.5 L116.5,247.5 M123.5,244.5 L125.5,242.5 L125.5,252.5 M122.5,252.5 L126.5,252.5 M130.5,252.5 L134.5,242.5 L138.5,252.5 M132.5,248.5 L137.5,248.5 M34.5,259.5 L30.5,262.5 L30.5,265.5 L34.5,268.5 M42.5,261.5 L44.5,259.5 L44.5,268.5 M41.5,268.5 L45.5,268.5 M52.5,259.5 L56.5,262.5 L56.5,265.5 L52.5,268.5 M237.5,238.5 L239.5,236.5 L243.5,236.5 L245.5,238.5 L245.5,240.5 L244.5,241.5 L239.5,241.5 L237.5,243.5 L237.5,246.5 L245.5,246.5 M249.5,238.5 L251.5,236.5 L255.5,236.5 L257.5,238.5 L257.5,240.5 L255.5,241.5 L252.5,241.5 M255.5,241.5 L257.5,243.5 L257.5,244.5 L255.5,246.5 L251.5,246.5 L249.5,244.5 M260.5,238.5 L262.5,236.5 L266.5,236.5 L268.5,238.5 L268.5,240.5 L267.5,241.5 L263.5,241.5 M267.5,241.5 L268.5,243.5 L268.5,244.5 L266.5,246.5 L262.5,246.5 L260.5,244.5 M272.5,238.5 L274.5,236.5 L278.5,236.5 L280.5,238.5 L280.5,240.5 L278.5,241.5 L275.5,241.5 M278.5,241.5 L280.5,243.5 L280.5,244.5 L278.5,246.5 L274.5,246.5 L272.5,244.5 M283.5,238.5 L285.5,236.5 L289.5,236.5 L291.5,238.5 L291.5,240.5 L290.5,241.5 L286.5,241.5 M290.5,241.5 L291.5,243.5 L291.5,244.5 L289.5,246.5 L285.5,246.5 L283.5,244.5 M292.5,273.5 L294.5,271.5 L298.5,271.5 L300.5,273.5 L300.5,275.5 L299.5,276.5 L294.5,276.5 L292.5,277.5 L292.5,280.5 L300.5,280.5 M304.5,273.5 L306.5,271.5 L310.5,271.5 L312.5,273.5 L312.5,275.5 L310.5,276.5 L307.5,276.5 M310.5,276.5 L312.5,277.5 L312.5,278.5 L310.5,280.5 L306.5,280.5 L304.5,278.5 M315.5,273.5 L317.5,271.5 L321.5,271.5 L323.5,273.5 L323.5,275.5 L322.5,276.5 L318.5,276.5 M322.5,276.5 L323.5,277.5 L323.5,278.5 L321.5,280.5 L317.5,280.5 L315.5,278.5 M327.5,273.5 L329.5,271.5 L333.5,271.5 L335.5,273.5 L335.5,275.5 L333.5,276.5 L330.5,276.5 M333.5,276.5 L335.5,277.5 L335.5,278.5 L333.5,280.5 L329.5,280.5 L327.5,278.5 M338.5,273.5 L340.5,271.5 L344.5,271.5 L346.5,273.5 L346.5,275.5 L345.5,276.5 L341.5,276.5 M345.5,276.5 L346.5,277.5 L346.5,278.5 L344.5,280.5 L340.5,280.5 L338.5,278.5 M177.5,283.5 L179.5,281.5 L183.5,281.5 L185.5,283.5 L185.5,285.5 L184.5,286.5 L179.5,286.5 L177.5,288.5 L177.5,291.5 L185.5,291.5 M189.5,283.5 L191.5,281.5 L195.5,281.5 L197.5,283.5 L197.5,285.5 L196.5,286.5 L192.5,286.5 M196.5,286.5 L197.5,288.5 L197.5,289.5 L195.5,291.5 L191.5,291.5 L189.5,289.5 M201.5,283.5 L203.5,281.5 L207.5,281.5 L209.5,283.5 L209.5,285.5 L208.5,286.5 L204.5,286.5 M208.5,286.5 L209.5,288.5 L209.5,289.5 L207.5,291.5 L203.5,291.5 L201.5,289.5 M213.5,281.5 L220.5,281.5 L215.5,291.5 M231.5,286.5 L226.5,286.5 L224.5,284.5 L224.5,283.5 L226.5,281.5 L229.5,281.5 L231.5,283.5 L231.5,286.5 L228.5,291.5 L226.5,291.5 M292.5,367.5 L294.5,365.5 L298.5,365.5 L300.5,367.5 L300.5,369.5 L299.5,370.5 L294.5,370.5 L292.5,372.5 L292.5,375.5 L300.5,375.5 M304.5,367.5 L306.5,365.5 L310.5,365.5 L312.5,367.5 L312.5,369.5 L311.5,370.5 L307.5,370.5 M311.5,370.5 L312.5,372.5 L312.5,373.5 L310.5,375.5 L306.5,375.5 L304.5,373.5 M316.5,367.5 L318.5,365.5 L322.5,365.5 L324.5,367.5 L324.5,369.5 L323.5,370.5 L319.5,370.5 M323.5,370.5 L324.5,372.5 L324.5,373.5 L322.5,375.5 L318.5,375.5 L316.5,373.5 M330.5,365.5 L334.5,365.5 L336.5,366.5 L336.5,369.5 L334.5,370.5 L330.5,370.5 L329.5,369.5 L329.5,366.5 L330.5,365.5 M330.5,370.5 L328.5,372.5 L328.5,373.5 L330.5,375.5 L334.5,375.5 L336.5,373.5 L336.5,372.5 L334.5,370.5 M342.5,365.5 L344.5,365.5 L346.5,367.5 L346.5,373.5 L344.5,375.5 L342.5,375.5 L340.5,373.5 L340.5,367.5 L342.5,365.5 M264.5,407.5 L266.5,405.5 L270.5,405.5 L272.5,407.5 L272.5,409.5 L271.5,410.5 L266.5,410.5 L264.5,411.5 L264.5,414.5 L272.5,414.5 M276.5,407.5 L278.5,405.5 L282.5,405.5 L284.5,407.5 L284.5,409.5 L282.5,410.5 L279.5,410.5 M282.5,410.5 L284.5,411.5 L284.5,412.5 L282.5,414.5 L278.5,414.5 L276.5,412.5 M288.5,407.5 L290.5,405.5 L294.5,405.5 L296.5,407.5 L296.5,409.5 L294.5,410.5 L291.5,410.5 M294.5,410.5 L296.5,411.5 L296.5,412.5 L294.5,414.5 L290.5,414.5 L288.5,412.5 M299.5,405.5 L306.5,405.5 L301.5,414.5 M312.5,405.5 L316.5,405.5 L318.5,406.5 L318.5,408.5 L316.5,410.5 L312.5,410.5 L311.5,408.5 L311.5,406.5 L312.5,405.5 M312.5,410.5 L310.5,411.5 L310.5,412.5 L312.5,414.5 L316.5,414.5 L318.5,412.5 L318.5,411.5 L316.5,410.5 M215.5,411.5 L221.5,411.5 L223.5,412.5 L223.5,414.5 L221.5,416.5 L217.5,416.5 M221.5,416.5 L223.5,417.5 L223.5,418.5 L221.5,420.5 L215.5,420.5 M217.5,411.5 L217.5,420.5 M39.5,380.5 L41.5,378.5 L45.5,378.5 L47.5,380.5 L47.5,382.5 L46.5,383.5 L41.5,383.5 L39.5,385.5 L39.5,388.5 L47.5,388.5 M51.5,380.5 L53.5,378.5 L57.5,378.5 L59.5,380.5 L59.5,382.5 L57.5,383.5 L54.5,383.5 M57.5,383.5 L59.5,385.5 L59.5,386.5 L57.5,388.5 L53.5,388.5 L51.5,386.5 M63.5,380.5 L65.5,378.5 L69.5,378.5 L71.5,380.5 L71.5,382.5 L69.5,383.5 L66.5,383.5 M69.5,383.5 L71.5,385.5 L71.5,386.5 L69.5,388.5 L65.5,388.5 L63.5,386.5 M74.5,380.5 L76.5,378.5 L80.5,378.5 L82.5,380.5 L82.5,382.5 L81.5,383.5 L77.5,383.5 M81.5,383.5 L82.5,385.5 L82.5,386.5 L80.5,388.5 L76.5,388.5 L74.5,386.5 M86.5,378.5 L93.5,378.5 L88.5,388.5 M97.5,388.5 L101.5,378.5 L105.5,388.5 M99.5,384.5 L104.5,384.5 M172.5,469.5 L174.5,467.5 L178.5,467.5 L180.5,469.5 L180.5,471.5 L179.5,472.5 L174.5,472.5 L172.5,474.5 L172.5,477.5 L180.5,477.5 M184.5,469.5 L186.5,467.5 L190.5,467.5 L192.5,469.5 L192.5,471.5 L190.5,472.5 L187.5,472.5 M190.5,472.5 L192.5,474.5 L192.5,475.5 L190.5,477.5 L186.5,477.5 L184.5,475.5 M196.5,469.5 L198.5,467.5 L202.5,467.5 L204.5,469.5 L204.5,471.5 L202.5,472.5 L199.5,472.5 M202.5,472.5 L204.5,474.5 L204.5,475.5 L202.5,477.5 L198.5,477.5 L196.5,475.5 M207.5,469.5 L209.5,467.5 L213.5,467.5 L215.5,469.5 L215.5,471.5 L214.5,472.5 L210.5,472.5 M214.5,472.5 L215.5,474.5 L215.5,475.5 L213.5,477.5 L209.5,477.5 L207.5,475.5 M221.5,467.5 L225.5,467.5 L227.5,468.5 L227.5,471.5 L225.5,472.5 L221.5,472.5 L220.5,471.5 L220.5,468.5 L221.5,467.5 M221.5,472.5 L219.5,474.5 L219.5,475.5 L221.5,477.5 L225.5,477.5 L227.5,475.5 L227.5,474.5 L225.5,472.5 M231.5,477.5 L231.5,467.5 L235.5,474.5 L239.5,467.5 L239.5,477.5 M52.5,499.5 L54.5,497.5 L58.5,497.5 L60.5,499.5 L60.5,502.5 L59.5,503.5 L54.5,503.5 L52.5,505.5 L52.5,508.5 L60.5,508.5 M64.5,499.5 L66.5,497.5 L70.5,497.5 L72.5,499.5 L72.5,502.5 L70.5,503.5 L67.5,503.5 M70.5,503.5 L72.5,505.5 L72.5,506.5 L70.5,508.5 L66.5,508.5 L64.5,506.5 M81.5,508.5 L81.5,497.5 L76.5,504.5 L84.5,504.5 M89.5,497.5 L93.5,497.5 L95.5,499.5 L95.5,501.5 L93.5,503.5 L89.5,503.5 L88.5,501.5 L88.5,499.5 L89.5,497.5 M89.5,503.5 L87.5,505.5 L87.5,506.5 L89.5,508.5 L93.5,508.5 L95.5,506.5 L95.5,505.5 L93.5,503.5 M101.5,497.5 L103.5,497.5 L105.5,499.5 L105.5,506.5 L103.5,508.5 L101.5,508.5 L99.5,506.5 L99.5,499.5 L101.5,497.5 M130.5,526.5 L132.5,524.5 L136.5,524.5 L138.5,526.5 L138.5,528.5 L137.5,529.5 L132.5,529.5 L130.5,531.5 L130.5,534.5 L138.5,534.5 M142.5,526.5 L144.5,524.5 L148.5,524.5 L150.5,526.5 L150.5,528.5 L149.5,529.5 L145.5,529.5 M149.5,529.5 L150.5,531.5 L150.5,532.5 L148.5,534.5 L144.5,534.5 L142.5,532.5 M154.5,526.5 L156.5,524.5 L160.5,524.5 L162.5,526.5 L162.5,528.5 L161.5,529.5 L157.5,529.5 M161.5,529.5 L162.5,531.5 L162.5,532.5 L160.5,534.5 L156.5,534.5 L154.5,532.5 M166.5,526.5 L168.5,524.5 L172.5,524.5 L174.5,526.5 L174.5,528.5 L173.5,529.5 L169.5,529.5 M173.5,529.5 L174.5,531.5 L174.5,532.5 L172.5,534.5 L168.5,534.5 L166.5,532.5 M178.5,524.5 L185.5,524.5 L180.5,534.5 M444.5,323.5 L446.5,321.5 L450.5,321.5 L452.5,323.5 L452.5,325.5 L451.5,326.5 L446.5,326.5 L444.5,328.5 L444.5,331.5 L452.5,331.5 M456.5,323.5 L458.5,321.5 L462.5,321.5 L464.5,323.5 L464.5,325.5 L462.5,326.5 L459.5,326.5 M462.5,326.5 L464.5,328.5 L464.5,329.5 L462.5,331.5 L458.5,331.5 L456.5,329.5 M468.5,323.5 L470.5,321.5 L474.5,321.5 L476.5,323.5 L476.5,325.5 L474.5,326.5 L471.5,326.5 M474.5,326.5 L476.5,328.5 L476.5,329.5 L474.5,331.5 L470.5,331.5 L468.5,329.5 M481.5,321.5 L483.5,321.5 L485.5,323.5 L485.5,329.5 L483.5,331.5 L481.5,331.5 L479.5,329.5 L479.5,323.5 L481.5,321.5 M489.5,323.5 L491.5,321.5 L495.5,321.5 L497.5,323.5 L497.5,325.5 L496.5,326.5 L491.5,326.5 L489.5,328.5 L489.5,331.5 L497.5,331.5 M593.5,314.5 L595.5,312.5 L599.5,312.5 L601.5,314.5 L601.5,316.5 L600.5,317.5 L595.5,317.5 L593.5,319.5 L593.5,322.5 L601.5,322.5 M605.5,314.5 L607.5,312.5 L611.5,312.5 L613.5,314.5 L613.5,316.5 L611.5,317.5 L608.5,317.5 M611.5,317.5 L613.5,319.5 L613.5,320.5 L611.5,322.5 L607.5,322.5 L605.5,320.5 M617.5,314.5 L619.5,312.5 L623.5,312.5 L625.5,314.5 L625.5,316.5 L623.5,317.5 L620.5,317.5 M623.5,317.5 L625.5,319.5 L625.5,320.5 L623.5,322.5 L619.5,322.5 L617.5,320.5 M634.5,322.5 L634.5,312.5 L628.5,318.5 L636.5,318.5 M640.5,314.5 L642.5,312.5 L646.5,312.5 L648.5,314.5 L648.5,316.5 L647.5,317.5 L643.5,317.5 M647.5,317.5 L648.5,319.5 L648.5,320.5 L646.5,322.5 L642.5,322.5 L640.5,320.5 M500.5,133.5 L502.5,131.5 L506.5,131.5 L508.5,133.5 L508.5,135.5 L507.5,136.5 L502.5,136.5 L500.5,138.5 L500.5,141.5 L508.5,141.5 M512.5,133.5 L514.5,131.5 L518.5,131.5 L520.5,133.5 L520.5,135.5 L518.5,136.5 L515.5,136.5 M518.5,136.5 L520.5,138.5 L520.5,139.5 L518.5,141.5 L514.5,141.5 L512.5,139.5 M523.5,133.5 L525.5,131.5 L529.5,131.5 L531.5,133.5 L531.5,135.5 L530.5,136.5 L526.5,136.5 M530.5,136.5 L531.5,138.5 L531.5,139.5 L529.5,141.5 L525.5,141.5 L523.5,139.5 M535.5,133.5 L537.5,131.5 L537.5,141.5 M535.5,141.5 L539.5,141.5 M544.5,131.5 L546.5,131.5 L548.5,133.5 L548.5,139.5 L546.5,141.5 L544.5,141.5 L542.5,139.5 L542.5,133.5 L544.5,131.5 M705.5,294.5 L709.5,286.5 L713.5,294.5 M707.5,291.5 L712.5,291.5 M732.5,273.5 L731.5,272.5 L726.5,272.5 L724.5,273.5 L724.5,279.5 L726.5,280.5 L731.5,280.5 L732.5,279.5 M733.5,348.5 L735.5,346.5 L739.5,346.5 L741.5,348.5 L741.5,350.5 L740.5,351.5 L735.5,351.5 L733.5,353.5 L733.5,356.5 L741.5,356.5 M745.5,348.5 L747.5,346.5 L751.5,346.5 L753.5,348.5 L753.5,350.5 L751.5,351.5 L748.5,351.5 M751.5,351.5 L753.5,353.5 L753.5,354.5 L751.5,356.5 L747.5,356.5 L745.5,354.5 M757.5,348.5 L759.5,346.5 L763.5,346.5 L765.5,348.5 L765.5,350.5 L763.5,351.5 L760.5,351.5 M763.5,351.5 L765.5,353.5 L765.5,354.5 L763.5,356.5 L759.5,356.5 L757.5,354.5 M769.5,348.5 L771.5,346.5 L771.5,356.5 M768.5,356.5 L772.5,356.5 M776.5,348.5 L778.5,346.5 L782.5,346.5 L784.5,348.5 L784.5,350.5 L783.5,351.5 L778.5,351.5 L776.5,353.5 L776.5,356.5 L784.5,356.5 M776.5,324.5 L778.5,322.5 L782.5,322.5 L784.5,324.5 L784.5,327.5 L783.5,328.5 L778.5,328.5 L776.5,330.5 L776.5,333.5 L784.5,333.5 M788.5,324.5 L790.5,322.5 L794.5,322.5 L796.5,324.5 L796.5,327.5 L795.5,328.5 L791.5,328.5 M795.5,328.5 L796.5,330.5 L796.5,331.5 L794.5,333.5 L790.5,333.5 L788.5,331.5 M806.5,333.5 L806.5,322.5 L800.5,329.5 L808.5,329.5 M818.5,322.5 L812.5,327.5 L812.5,331.5 L814.5,333.5 L817.5,333.5 L819.5,331.5 L819.5,330.5 L817.5,328.5 L812.5,328.5 M831.5,322.5 L823.5,322.5 L823.5,328.5 L829.5,328.5 L831.5,330.5 L831.5,331.5 L829.5,333.5 L825.5,333.5 L823.5,331.5 M749.5,122.5 L751.5,120.5 L755.5,120.5 L757.5,122.5 L757.5,124.5 L756.5,125.5 L751.5,125.5 L749.5,127.5 L749.5,130.5 L757.5,130.5 M761.5,122.5 L763.5,120.5 L767.5,120.5 L769.5,122.5 L769.5,124.5 L767.5,125.5 L764.5,125.5 M767.5,125.5 L769.5,127.5 L769.5,128.5 L767.5,130.5 L763.5,130.5 L761.5,128.5 M772.5,122.5 L774.5,120.5 L778.5,120.5 L780.5,122.5 L780.5,124.5 L779.5,125.5 L775.5,125.5 M779.5,125.5 L780.5,127.5 L780.5,128.5 L778.5,130.5 L774.5,130.5 L772.5,128.5 M784.5,122.5 L786.5,120.5 L790.5,120.5 L792.5,122.5 L792.5,124.5 L790.5,125.5 L785.5,125.5 L784.5,127.5 L784.5,130.5 L792.5,130.5 M795.5,122.5 L797.5,120.5 L801.5,120.5 L803.5,122.5 L803.5,124.5 L802.5,125.5 L797.5,125.5 L795.5,127.5 L795.5,130.5 L803.5,130.5 M694.5,152.5 L687.5,152.5 L687.5,160.5 L694.5,160.5 M687.5,156.5 L693.5,156.5 M722.5,152.5 L715.5,152.5 L715.5,160.5 M715.5,156.5 L721.5,156.5 M712.5,238.5 L718.5,238.5 L720.5,240.5 L720.5,246.5 L718.5,248.5 L712.5,248.5 M714.5,238.5 L714.5,248.5 M887.5,71.5 L889.5,69.5 L893.5,69.5 L895.5,71.5 L895.5,74.5 L894.5,75.5 L889.5,75.5 L887.5,77.5 L887.5,80.5 L895.5,80.5 M899.5,71.5 L901.5,69.5 L905.5,69.5 L907.5,71.5 L907.5,74.5 L906.5,75.5 L902.5,75.5 M906.5,75.5 L907.5,77.5 L907.5,78.5 L905.5,80.5 L901.5,80.5 L899.5,78.5 M911.5,71.5 L913.5,69.5 L917.5,69.5 L919.5,71.5 L919.5,74.5 L918.5,75.5 L914.5,75.5 M918.5,75.5 L919.5,77.5 L919.5,78.5 L917.5,80.5 L913.5,80.5 L911.5,78.5 M925.5,69.5 L927.5,69.5 L929.5,71.5 L929.5,78.5 L927.5,80.5 L925.5,80.5 L923.5,78.5 L923.5,71.5 L925.5,69.5 M939.5,69.5 L933.5,74.5 L933.5,78.5 L935.5,80.5 L938.5,80.5 L940.5,78.5 L940.5,77.5 L938.5,75.5 L933.5,75.5 M952.5,69.5 L946.5,69.5 L944.5,71.5 L944.5,78.5 L946.5,80.5 L952.5,80.5 L952.5,75.5 L949.5,75.5 M902.5,284.5 L904.5,282.5 L908.5,282.5 L910.5,284.5 L910.5,287.5 L909.5,288.5 L904.5,288.5 L902.5,290.5 L902.5,293.5 L910.5,293.5 M914.5,284.5 L916.5,282.5 L920.5,282.5 L922.5,284.5 L922.5,287.5 L920.5,288.5 L917.5,288.5 M920.5,288.5 L922.5,290.5 L922.5,291.5 L920.5,293.5 L916.5,293.5 L914.5,291.5 M926.5,284.5 L928.5,282.5 L932.5,282.5 L934.5,284.5 L934.5,287.5 L932.5,288.5 L929.5,288.5 M932.5,288.5 L934.5,290.5 L934.5,291.5 L932.5,293.5 L928.5,293.5 L926.5,291.5 M937.5,284.5 L939.5,282.5 L943.5,282.5 L945.5,284.5 L945.5,287.5 L944.5,288.5 L940.5,288.5 M944.5,288.5 L945.5,290.5 L945.5,291.5 L943.5,293.5 L939.5,293.5 L937.5,291.5 M951.5,282.5 L955.5,282.5 L957.5,284.5 L957.5,286.5 L955.5,288.5 L951.5,288.5 L950.5,286.5 L950.5,284.5 L951.5,282.5 M951.5,288.5 L949.5,290.5 L949.5,291.5 L951.5,293.5 L955.5,293.5 L957.5,291.5 L957.5,290.5 L955.5,288.5 M885.5,331.5 L887.5,329.5 L891.5,329.5 L893.5,331.5 L893.5,333.5 L892.5,334.5 L887.5,334.5 L885.5,336.5 L885.5,339.5 L893.5,339.5 M897.5,331.5 L899.5,329.5 L903.5,329.5 L905.5,331.5 L905.5,333.5 L903.5,334.5 L900.5,334.5 M903.5,334.5 L905.5,336.5 L905.5,337.5 L903.5,339.5 L899.5,339.5 L897.5,337.5 M909.5,331.5 L911.5,329.5 L915.5,329.5 L917.5,331.5 L917.5,333.5 L915.5,334.5 L912.5,334.5 M915.5,334.5 L917.5,336.5 L917.5,337.5 L915.5,339.5 L911.5,339.5 L909.5,337.5 M921.5,331.5 L923.5,329.5 L923.5,339.5 M920.5,339.5 L924.5,339.5 M930.5,329.5 L934.5,329.5 L936.5,330.5 L936.5,333.5 L934.5,334.5 L930.5,334.5 L929.5,333.5 L929.5,330.5 L930.5,329.5 M930.5,334.5 L928.5,336.5 L928.5,337.5 L930.5,339.5 L934.5,339.5 L936.5,337.5 L936.5,336.5 L934.5,334.5 M515.5,377.5 L517.5,375.5 L521.5,375.5 L523.5,377.5 L523.5,379.5 L522.5,380.5 L517.5,380.5 L515.5,382.5 L515.5,385.5 L523.5,385.5 M527.5,377.5 L529.5,375.5 L533.5,375.5 L535.5,377.5 L535.5,379.5 L533.5,380.5 L530.5,380.5 M533.5,380.5 L535.5,382.5 L535.5,383.5 L533.5,385.5 L529.5,385.5 L527.5,383.5 M539.5,377.5 L541.5,375.5 L545.5,375.5 L547.5,377.5 L547.5,379.5 L545.5,380.5 L542.5,380.5 M545.5,380.5 L547.5,382.5 L547.5,383.5 L545.5,385.5 L541.5,385.5 L539.5,383.5 M551.5,377.5 L553.5,375.5 L553.5,385.5 M550.5,385.5 L554.5,385.5 M558.5,377.5 L560.5,375.5 L564.5,375.5 L566.5,377.5 L566.5,379.5 L565.5,380.5 L561.5,380.5 M565.5,380.5 L566.5,382.5 L566.5,383.5 L564.5,385.5 L560.5,385.5 L558.5,383.5 M570.5,385.5 L570.5,375.5 L574.5,382.5 L578.5,375.5 L578.5,385.5 M406.5,420.5 L408.5,418.5 L412.5,418.5 L414.5,420.5 L414.5,422.5 L413.5,423.5 L408.5,423.5 L406.5,425.5 L406.5,428.5 L414.5,428.5 M418.5,420.5 L420.5,418.5 L424.5,418.5 L426.5,420.5 L426.5,422.5 L424.5,423.5 L421.5,423.5 M424.5,423.5 L426.5,425.5 L426.5,426.5 L424.5,428.5 L420.5,428.5 L418.5,426.5 M429.5,420.5 L431.5,418.5 L435.5,418.5 L437.5,420.5 L437.5,422.5 L436.5,423.5 L432.5,423.5 M436.5,423.5 L437.5,425.5 L437.5,426.5 L435.5,428.5 L431.5,428.5 L429.5,426.5 M443.5,418.5 L447.5,418.5 L448.5,419.5 L448.5,422.5 L447.5,423.5 L443.5,423.5 L441.5,422.5 L441.5,419.5 L443.5,418.5 M443.5,423.5 L441.5,425.5 L441.5,426.5 L443.5,428.5 L447.5,428.5 L449.5,426.5 L449.5,425.5 L447.5,423.5 M452.5,420.5 L454.5,418.5 L458.5,418.5 L460.5,420.5 L460.5,422.5 L459.5,423.5 L455.5,423.5 M459.5,423.5 L460.5,425.5 L460.5,426.5 L458.5,428.5 L454.5,428.5 L452.5,426.5 M464.5,428.5 L464.5,418.5 L472.5,428.5 L472.5,418.5 M475.5,428.5 L479.5,418.5 L483.5,428.5 M477.5,424.5 L482.5,424.5 M504.5,492.5 L506.5,490.5 L510.5,490.5 L512.5,492.5 L512.5,494.5 L511.5,495.5 L506.5,495.5 L504.5,497.5 L504.5,500.5 L512.5,500.5 M516.5,492.5 L518.5,490.5 L522.5,490.5 L524.5,492.5 L524.5,494.5 L523.5,495.5 L519.5,495.5 M523.5,495.5 L524.5,497.5 L524.5,498.5 L522.5,500.5 L518.5,500.5 L516.5,498.5 M528.5,492.5 L530.5,490.5 L534.5,490.5 L536.5,492.5 L536.5,494.5 L535.5,495.5 L531.5,495.5 M535.5,495.5 L536.5,497.5 L536.5,498.5 L534.5,500.5 L530.5,500.5 L528.5,498.5 M548.5,490.5 L540.5,490.5 L540.5,495.5 L546.5,495.5 L548.5,497.5 L548.5,498.5 L546.5,500.5 L542.5,500.5 L540.5,498.5 M552.5,490.5 L559.5,490.5 L554.5,500.5 M567.5,492.5 L567.5,499.5 M563.5,495.5 L570.5,495.5 M574.5,500.5 L578.5,490.5 L582.5,500.5 M576.5,496.5 L581.5,496.5 M467.5,533.5 L469.5,531.5 L473.5,531.5 L475.5,533.5 L475.5,536.5 L474.5,537.5 L469.5,537.5 L467.5,539.5 L467.5,542.5 L475.5,542.5 M478.5,533.5 L480.5,531.5 L484.5,531.5 L486.5,533.5 L486.5,536.5 L485.5,537.5 L481.5,537.5 M485.5,537.5 L486.5,539.5 L486.5,540.5 L484.5,542.5 L480.5,542.5 L478.5,540.5 M490.5,533.5 L492.5,531.5 L496.5,531.5 L498.5,533.5 L498.5,536.5 L496.5,537.5 L493.5,537.5 M496.5,537.5 L498.5,539.5 L498.5,540.5 L496.5,542.5 L492.5,542.5 L490.5,540.5 M501.5,533.5 L503.5,531.5 L503.5,542.5 M501.5,542.5 L505.5,542.5 M508.5,533.5 L510.5,531.5 L514.5,531.5 L516.5,533.5 L516.5,536.5 L515.5,537.5 L511.5,537.5 M515.5,537.5 L516.5,539.5 L516.5,540.5 L514.5,542.5 L510.5,542.5 L508.5,540.5 M549.5,524.5 L551.5,522.5 L555.5,522.5 L557.5,524.5 L557.5,527.5 L556.5,529.5 L551.5,529.5 L549.5,530.5 L549.5,534.5 L557.5,534.5 M561.5,524.5 L563.5,522.5 L567.5,522.5 L569.5,524.5 L569.5,527.5 L567.5,529.5 L564.5,529.5 M567.5,529.5 L569.5,530.5 L569.5,532.5 L567.5,534.5 L563.5,534.5 L561.5,532.5 M573.5,524.5 L575.5,522.5 L579.5,522.5 L581.5,524.5 L581.5,527.5 L579.5,529.5 L576.5,529.5 M579.5,529.5 L581.5,530.5 L581.5,532.5 L579.5,534.5 L575.5,534.5 L573.5,532.5 M592.5,522.5 L584.5,522.5 L584.5,528.5 L590.5,528.5 L592.5,530.5 L592.5,532.5 L590.5,534.5 L586.5,534.5 L584.5,532.5 M596.5,522.5 L603.5,522.5 L598.5,534.5 M713.5,394.5 L715.5,392.5 L719.5,392.5 L721.5,394.5 L721.5,396.5 L720.5,397.5 L715.5,397.5 L713.5,399.5 L713.5,402.5 L721.5,402.5 M725.5,394.5 L727.5,392.5 L731.5,392.5 L733.5,394.5 L733.5,396.5 L732.5,397.5 L728.5,397.5 M732.5,397.5 L733.5,399.5 L733.5,400.5 L731.5,402.5 L727.5,402.5 L725.5,400.5 M738.5,394.5 L740.5,392.5 L744.5,392.5 L746.5,394.5 L746.5,396.5 L744.5,397.5 L741.5,397.5 M744.5,397.5 L746.5,399.5 L746.5,400.5 L744.5,402.5 L740.5,402.5 L738.5,400.5 M750.5,394.5 L752.5,392.5 L752.5,402.5 M750.5,402.5 L754.5,402.5 M765.5,397.5 L760.5,397.5 L758.5,395.5 L758.5,394.5 L760.5,392.5 L763.5,392.5 L765.5,394.5 L765.5,397.5 L762.5,402.5 L760.5,402.5 M687.5,434.5 L689.5,432.5 L693.5,432.5 L695.5,434.5 L695.5,436.5 L694.5,437.5 L689.5,437.5 L687.5,439.5 L687.5,442.5 L695.5,442.5 M699.5,434.5 L701.5,432.5 L705.5,432.5 L707.5,434.5 L707.5,436.5 L705.5,437.5 L702.5,437.5 M705.5,437.5 L707.5,439.5 L707.5,440.5 L705.5,442.5 L701.5,442.5 L699.5,440.5 M711.5,434.5 L713.5,432.5 L717.5,432.5 L719.5,434.5 L719.5,436.5 L717.5,437.5 L714.5,437.5 M717.5,437.5 L719.5,439.5 L719.5,440.5 L717.5,442.5 L713.5,442.5 L711.5,440.5 M724.5,432.5 L728.5,432.5 L730.5,433.5 L730.5,436.5 L728.5,437.5 L724.5,437.5 L723.5,436.5 L723.5,433.5 L724.5,432.5 M724.5,437.5 L722.5,439.5 L722.5,440.5 L724.5,442.5 L728.5,442.5 L730.5,440.5 L730.5,439.5 L728.5,437.5 M734.5,434.5 L736.5,432.5 L740.5,432.5 L742.5,434.5 L742.5,436.5 L741.5,437.5 L737.5,437.5 M741.5,437.5 L742.5,439.5 L742.5,440.5 L740.5,442.5 L736.5,442.5 L734.5,440.5 M746.5,442.5 L746.5,432.5 L754.5,442.5 L754.5,432.5 M640.5,429.5 L644.5,420.5 L648.5,429.5 M642.5,426.5 L647.5,426.5 M803.5,399.5 L805.5,397.5 L809.5,397.5 L811.5,399.5 L811.5,402.5 L810.5,403.5 L805.5,403.5 L803.5,405.5 L803.5,408.5 L811.5,408.5 M815.5,399.5 L817.5,397.5 L821.5,397.5 L823.5,399.5 L823.5,402.5 L822.5,403.5 L818.5,403.5 M822.5,403.5 L823.5,405.5 L823.5,406.5 L821.5,408.5 L817.5,408.5 L815.5,406.5 M833.5,408.5 L833.5,397.5 L827.5,404.5 L835.5,404.5 M839.5,397.5 L846.5,397.5 L841.5,408.5 M852.5,397.5 L854.5,397.5 L856.5,399.5 L856.5,406.5 L854.5,408.5 L852.5,408.5 L850.5,406.5 L850.5,399.5 L852.5,397.5 M910.5,374.5 L909.5,373.5 L904.5,373.5 L902.5,374.5 L902.5,382.5 L904.5,383.5 L909.5,383.5 L910.5,382.5 M914.5,373.5 L921.5,373.5 L921.5,383.5 L914.5,383.5 L914.5,373.5 M924.5,373.5 L928.5,383.5 L932.5,373.5 M943.5,373.5 L936.5,373.5 L936.5,383.5 L943.5,383.5 M936.5,378.5 L942.5,378.5 M946.5,383.5 L946.5,373.5 L953.5,373.5 L954.5,374.5 L954.5,377.5 L953.5,378.5 L946.5,378.5 M950.5,378.5 L954.5,383.5 M961.5,373.5 L967.5,373.5 L969.5,375.5 L969.5,381.5 L967.5,383.5 L961.5,383.5 M963.5,373.5 L963.5,383.5 M910.5,398.5 L909.5,397.5 L904.5,397.5 L902.5,398.5 L902.5,406.5 L904.5,407.5 L909.5,407.5 L910.5,406.5 M914.5,397.5 L921.5,397.5 L921.5,407.5 L914.5,407.5 L914.5,397.5 M924.5,397.5 L928.5,407.5 L932.5,397.5 M943.5,397.5 L936.5,397.5 L936.5,407.5 L943.5,407.5 M936.5,402.5 L942.5,402.5 M946.5,407.5 L946.5,397.5 L953.5,397.5 L954.5,398.5 L954.5,401.5 L953.5,402.5 L946.5,402.5 M950.5,402.5 L954.5,407.5 M968.5,397.5 L961.5,397.5 L961.5,407.5 L968.5,407.5 M961.5,402.5 L967.5,402.5 M910.5,423.5 L909.5,422.5 L904.5,422.5 L902.5,423.5 L902.5,431.5 L904.5,432.5 L909.5,432.5 L910.5,431.5 M914.5,422.5 L921.5,422.5 L921.5,432.5 L914.5,432.5 L914.5,422.5 M924.5,422.5 L928.5,432.5 L932.5,422.5 M943.5,422.5 L936.5,422.5 L936.5,432.5 L943.5,432.5 M936.5,427.5 L942.5,427.5 M946.5,432.5 L946.5,422.5 L953.5,422.5 L954.5,423.5 L954.5,426.5 L953.5,427.5 L946.5,427.5 M950.5,427.5 L954.5,432.5 M968.5,422.5 L961.5,422.5 L961.5,432.5 M961.5,427.5 L967.5,427.5 M718.5,495.5 L720.5,493.5 L724.5,493.5 L726.5,495.5 L726.5,497.5 L725.5,498.5 L720.5,498.5 L718.5,500.5 L718.5,503.5 L726.5,503.5 M730.5,495.5 L732.5,493.5 L736.5,493.5 L738.5,495.5 L738.5,497.5 L736.5,498.5 L733.5,498.5 M736.5,498.5 L738.5,500.5 L738.5,501.5 L736.5,503.5 L732.5,503.5 L730.5,501.5 M741.5,495.5 L743.5,493.5 L747.5,493.5 L749.5,495.5 L749.5,497.5 L748.5,498.5 L744.5,498.5 M748.5,498.5 L749.5,500.5 L749.5,501.5 L747.5,503.5 L743.5,503.5 L741.5,501.5 M753.5,495.5 L755.5,493.5 L759.5,493.5 L761.5,495.5 L761.5,497.5 L759.5,498.5 L754.5,498.5 L753.5,500.5 L753.5,503.5 L761.5,503.5 M765.5,495.5 L767.5,493.5 L767.5,503.5 M764.5,503.5 L768.5,503.5 M806.5,469.5 L808.5,478.5 L810.5,472.5 L813.5,478.5 L814.5,469.5 M817.5,478.5 L821.5,469.5 L825.5,478.5 M819.5,475.5 L824.5,475.5 M836.5,469.5 L830.5,469.5 L828.5,470.5 L828.5,471.5 L836.5,476.5 L836.5,477.5 L835.5,478.5 L828.5,478.5 M839.5,469.5 L839.5,478.5 M847.5,469.5 L847.5,478.5 M839.5,474.5 L847.5,474.5 M857.5,469.5 L850.5,469.5 L850.5,478.5 L857.5,478.5 M850.5,474.5 L856.5,474.5 M860.5,478.5 L860.5,469.5 L867.5,469.5 L868.5,470.5 L868.5,472.5 L867.5,474.5 L860.5,474.5 M864.5,474.5 L868.5,478.5 M875.5,478.5 L879.5,469.5 L883.5,478.5 M877.5,475.5 L882.5,475.5 M806.5,493.5 L808.5,503.5 L810.5,497.5 L813.5,503.5 L814.5,493.5 M817.5,503.5 L821.5,493.5 L825.5,503.5 M819.5,499.5 L824.5,499.5 M836.5,493.5 L830.5,493.5 L828.5,494.5 L828.5,496.5 L836.5,500.5 L836.5,502.5 L835.5,503.5 L828.5,503.5 M839.5,493.5 L839.5,503.5 M847.5,493.5 L847.5,503.5 M839.5,498.5 L847.5,498.5 M857.5,493.5 L850.5,493.5 L850.5,503.5 L857.5,503.5 M850.5,498.5 L856.5,498.5 M860.5,503.5 L860.5,493.5 L867.5,493.5 L868.5,494.5 L868.5,497.5 L867.5,498.5 L860.5,498.5 M864.5,498.5 L868.5,503.5 M875.5,493.5 L881.5,493.5 L883.5,494.5 L883.5,497.5 L881.5,498.5 L877.5,498.5 M881.5,498.5 L883.5,500.5 L883.5,501.5 L881.5,503.5 L875.5,503.5 M877.5,493.5 L877.5,503.5 M813.5,518.5 L806.5,518.5 L806.5,527.5 L813.5,527.5 M806.5,523.5 L812.5,523.5 M821.5,527.5 L821.5,518.5 L828.5,518.5 L829.5,519.5 L829.5,521.5 L828.5,523.5 L821.5,523.5 M825.5,523.5 L829.5,527.5 M835.5,518.5 L835.5,527.5 M833.5,518.5 L837.5,518.5 M833.5,527.5 L837.5,527.5 M840.5,527.5 L840.5,518.5 L848.5,527.5 L848.5,518.5 M860.5,518.5 L854.5,518.5 L852.5,520.5 L852.5,525.5 L854.5,527.5 L860.5,527.5 L860.5,523.5 L857.5,523.5 M876.5,519.5 L875.5,518.5 L870.5,518.5 L868.5,519.5 L868.5,526.5 L870.5,527.5 L875.5,527.5 L876.5,526.5 M920.5,536.5 L920.5,545.5 L922.5,547.5 L926.5,547.5 L928.5,545.5 L928.5,536.5 M932.5,538.5 L934.5,536.5 L938.5,536.5 L940.5,538.5 L940.5,541.5 L939.5,542.5 L934.5,542.5 L932.5,544.5 L932.5,547.5 L940.5,547.5 M944.5,538.5 L946.5,536.5 L950.5,536.5 L952.5,538.5 L952.5,541.5 L951.5,542.5 L947.5,542.5 M951.5,542.5 L952.5,544.5 L952.5,545.5 L950.5,547.5 L946.5,547.5 L944.5,545.5 M956.5,538.5 L958.5,536.5 L962.5,536.5 L964.5,538.5 L964.5,541.5 L963.5,542.5 L959.5,542.5 M963.5,542.5 L964.5,544.5 L964.5,545.5 L962.5,547.5 L958.5,547.5 L956.5,545.5 M975.5,536.5 L968.5,536.5 L968.5,547.5 M968.5,542.5 L974.5,542.5 M139.5,45.5 L145.5,45.5 L147.5,46.5 L147.5,48.5 L145.5,50.5 L141.5,50.5 M145.5,50.5 L147.5,51.5 L147.5,52.5 L145.5,54.5 L139.5,54.5 M141.5,45.5 L141.5,54.5 M318.5,47.5 L324.5,47.5 L326.5,48.5 L326.5,50.5 L324.5,52.5 L320.5,52.5 M324.5,52.5 L326.5,53.5 L326.5,54.5 L324.5,56.5 L318.5,56.5 M320.5,47.5 L320.5,56.5 M11.5,175.5 L17.5,175.5 L19.5,176.5 L19.5,179.5 L17.5,180.5 L13.5,180.5 M17.5,180.5 L19.5,182.5 L19.5,183.5 L17.5,185.5 L11.5,185.5 M13.5,175.5 L13.5,185.5 M11.5,209.5 L13.5,219.5 L15.5,213.5 L18.5,219.5 L19.5,209.5 M11.5,253.5 L11.5,243.5 L19.5,253.5 L19.5,243.5 M985.5,536.5 L987.5,536.5 L989.5,538.5 L989.5,545.5 L987.5,547.5 L985.5,547.5 L983.5,545.5 L983.5,538.5 L985.5,536.5 M995.5,536.5 L997.5,536.5 L999.5,538.5 L999.5,545.5 L997.5,547.5 L995.5,547.5 L993.5,545.5 L993.5,538.5 L995.5,536.5 M1004.5,536.5 L1006.5,536.5 L1008.5,538.5 L1008.5,545.5 L1006.5,547.5 L1004.5,547.5 L1002.5,545.5 L1002.5,538.5 L1004.5,536.5 M1013.5,538.5 L1015.5,536.5 L1015.5,547.5 M1012.5,547.5 L1016.5,547.5"/>
<path fill="none" stroke="#000" stroke-width="1" shape-rendering="crispEdges" d="M178.5,83.5 L180.5,81.5 L184.5,81.5 L186.5,83.5 L186.5,85.5 L185.5,86.5 L180.5,86.5 L178.5,88.5 L178.5,91.5 L186.5,91.5 M190.5,83.5 L192.5,81.5 L196.5,81.5 L198.5,83.5 L198.5,85.5 L196.5,86.5 L193.5,86.5 M196.5,86.5 L198.5,88.5 L198.5,89.5 L196.5,91.5 L192.5,91.5 L190.5,89.5 M202.5,83.5 L204.5,81.5 L208.5,81.5 L210.5,83.5 L210.5,85.5 L208.5,86.5 L205.5,86.5 M208.5,86.5 L210.5,88.5 L210.5,89.5 L208.5,91.5 L204.5,91.5 L202.5,89.5 M215.5,81.5 L217.5,81.5 L219.5,83.5 L219.5,89.5 L217.5,91.5 L215.5,91.5 L213.5,89.5 L213.5,83.5 L215.5,81.5 M225.5,81.5 L227.5,81.5 L229.5,83.5 L229.5,89.5 L227.5,91.5 L225.5,91.5 L223.5,89.5 L223.5,83.5 L225.5,81.5 M283.5,118.5 L285.5,116.5 L289.5,116.5 L291.5,118.5 L291.5,121.5 L290.5,122.5 L285.5,122.5 L283.5,124.5 L283.5,127.5 L291.5,127.5 M295.5,118.5 L297.5,116.5 L301.5,116.5 L303.5,118.5 L303.5,121.5 L302.5,122.5 L298.5,122.5 M302.5,122.5 L303.5,124.5 L303.5,125.5 L301.5,127.5 L297.5,127.5 L295.5,125.5 M307.5,118.5 L309.5,116.5 L313.5,116.5 L315.5,118.5 L315.5,121.5 L314.5,122.5 L310.5,122.5 M314.5,122.5 L315.5,124.5 L315.5,125.5 L313.5,127.5 L309.5,127.5 L307.5,125.5 M321.5,116.5 L323.5,116.5 L325.5,118.5 L325.5,125.5 L323.5,127.5 L321.5,127.5 L319.5,125.5 L319.5,118.5 L321.5,116.5 M331.5,116.5 L333.5,116.5 L335.5,118.5 L335.5,125.5 L333.5,127.5 L331.5,127.5 L329.5,125.5 L329.5,118.5 L331.5,116.5"/>
<rect x="163" y="72" width="66" height="26" fill="#f00" fill-opacity="0.5"/>
<rect x="269" y="108" width="66" height="26" fill="#f00" fill-opacity="0.5"/>
<text transform="translate(-1.5,30.5) rotate(-16.5)" x="0" y="0" font-family="Liberation Sans" font-size="16.3" fill="#000" fill-opacity="0.28">PartsIndex</text>
<text transform="translate(420.8,30.5) rotate(-16.5)" x="0" y="0" font-family="Liberation Sans" font-size="16.3" fill="#000" fill-opacity="0.28">PartsIndex</text>
<text transform="translate(843.2,30.5) rotate(-16.5)" x="0" y="0" font-family="Liberation Sans" font-size="16.3" fill="#000" fill-opacity="0.28">PartsIndex</text>
<text transform="translate(-1.5,506.4) rotate(-16.5)" x="0" y="0" font-family="Liberation Sans" font-size="16.3" fill="#000" fill-opacity="0.28">PartsIndex</text>
<text transform="translate(420.8,506.4) rotate(-16.5)" x="0" y="0" font-family="Liberation Sans" font-size="16.3" fill="#000" fill-opacity="0.28">PartsIndex</text>
<text transform="translate(843.3,506.4) rotate(-16.5)" x="0" y="0" font-family="Liberation Sans" font-size="16.3" fill="#000" fill-opacity="0.28">PartsIndex</text>
<rect x="0" y="548" width="1024" height="102" fill="#666"/>
<text transform="translate(121.90,618.10) scale(0.8965,1)" x="-3.49" y="0" font-size="42.59" fill="#fff" font-family="Liberation Sans">NISSAN</text>
<text transform="translate(283.70,618.10) scale(0.9189,1)" x="-3.93" y="0" font-size="42.59" fill="#fff" font-family="Liberation Sans">INFINITI</text>
<text transform="translate(437.40,618.10) scale(0.9810,1)" x="-1.89" y="0" font-size="42.59" fill="#fff" font-family="Liberation Sans">-</text>
<text transform="translate(459.00,618.10) scale(0.9590,1)" x="-2.14" y="0" font-size="42.59" fill="#fff" font-family="Liberation Sans">2330070J03</text>
<text transform="translate(734.00,618.10) scale(0.9878,1)" x="-3.49" y="0" font-size="42.59" fill="#fff" font-family="Liberation Sans">N</text>
<text transform="translate(770.40,618.10) scale(0.9425,1)" x="-1.89" y="0" font-size="42.59" fill="#fff" font-family="Liberation Sans">-</text>
<text transform="translate(792.70,618.10) scale(0.9501,1)" x="-2.14" y="0" font-size="42.59" fill="#fff" font-family="Liberation Sans">23300</text>
</svg></body></html>
